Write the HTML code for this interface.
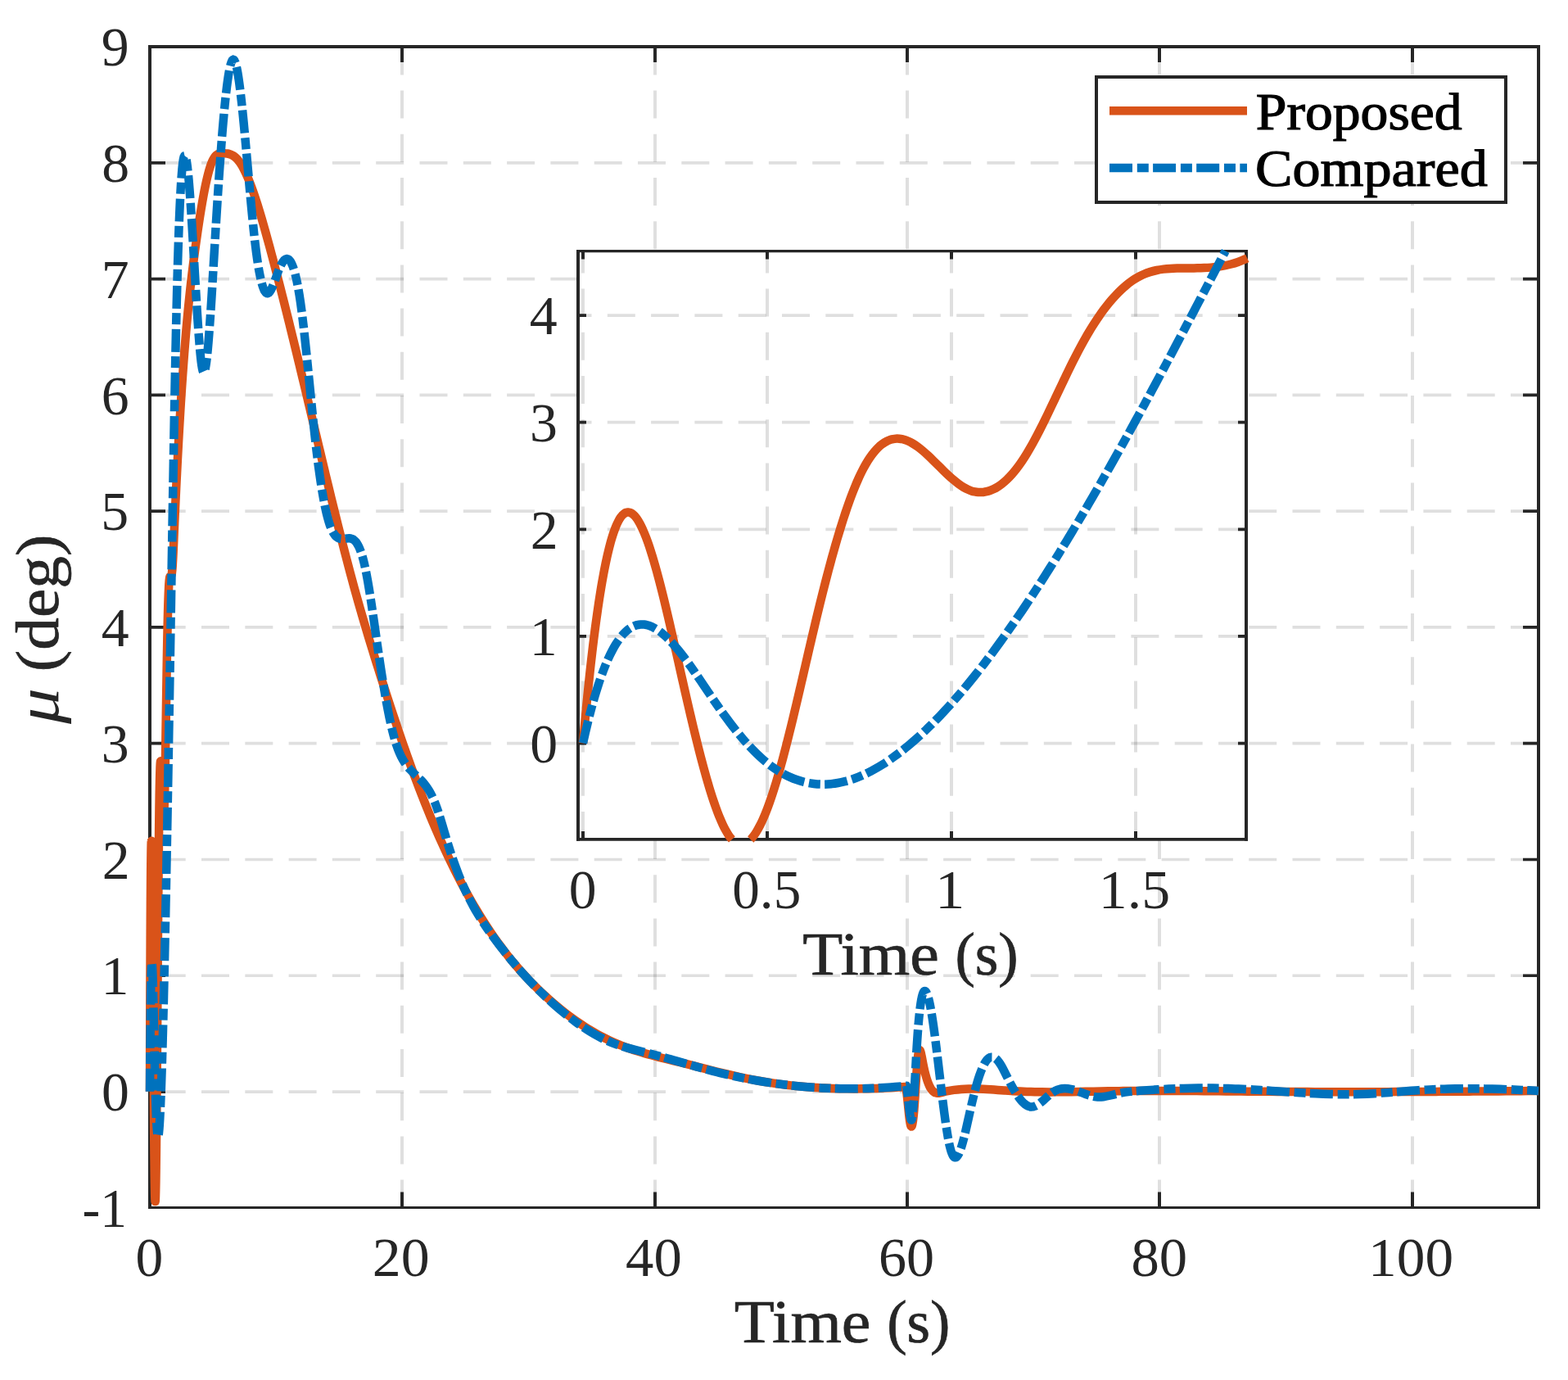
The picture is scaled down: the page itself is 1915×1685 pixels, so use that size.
<!DOCTYPE html>
<html lang="en"><head><meta charset="utf-8"><title>Bank angle response</title>
<style>html,body{margin:0;padding:0;background:#fff;overflow:hidden;}svg{display:block;}text{font-family:"Liberation Serif", serif;fill:#262626;}</style></head><body>
<svg width="1915" height="1685" viewBox="0 0 1915 1685">
<rect x="0" y="0" width="1915" height="1685" fill="#ffffff"/>
<g id="main-axes">
<g stroke="#262626" stroke-opacity="0.15" fill="none">
<path d="M491 1474.6 V56.9 M800 1474.6 V56.9 M1108 1474.6 V56.9 M1416 1474.6 V56.9 M1725 1474.6 V56.9" stroke-width="4" stroke-dasharray="34 19.2"/>
<path d="M1879 1333.03 H183 M1879 1191.26 H183 M1879 1049.49 H183 M1879 907.72 H183 M1879 765.95 H183 M1879 624.18 H183 M1879 482.41 H183 M1879 340.64 H183 M1879 198.87 H183" stroke-width="3.7" stroke-dasharray="34 19.3"/>
</g>
<g stroke="#262626" fill="none">
<path d="M491 1474.6 v-19 M491 56.9 v19 M800 1474.6 v-19 M800 56.9 v19 M1108 1474.6 v-19 M1108 56.9 v19 M1416 1474.6 v-19 M1416 56.9 v19 M1725 1474.6 v-19 M1725 56.9 v19" stroke-width="4"/>
<path d="M183 1333.03 h19 M1879 1333.03 h-19 M183 1191.26 h19 M1879 1191.26 h-19 M183 1049.49 h19 M1879 1049.49 h-19 M183 907.72 h19 M1879 907.72 h-19 M183 765.95 h19 M1879 765.95 h-19 M183 624.18 h19 M1879 624.18 h-19 M183 482.41 h19 M1879 482.41 h-19 M183 340.64 h19 M1879 340.64 h-19 M183 198.87 h19 M1879 198.87 h-19" stroke-width="3.7"/>
<path d="M183 55 V1476 M1879 55 V1476" stroke-width="4"/>
<path d="M181 57 H1881" stroke-width="4"/>
<path d="M181 1474.5 H1881" stroke-width="3"/>
</g>
</g>
<g id="main-ticklabels">
<text x="165.57" y="1558" font-size="67.8" textLength="33.76" lengthAdjust="spacingAndGlyphs">0</text>
<text x="454.83" y="1558" font-size="67.8" textLength="69.89" lengthAdjust="spacingAndGlyphs">20</text>
<text x="764.12" y="1558" font-size="67.8" textLength="68.75" lengthAdjust="spacingAndGlyphs">40</text>
<text x="1072.9" y="1558" font-size="67.8" textLength="68.15" lengthAdjust="spacingAndGlyphs">60</text>
<text x="1381.43" y="1558" font-size="67.8" textLength="68.65" lengthAdjust="spacingAndGlyphs">80</text>
<text x="1671.14" y="1558" font-size="67.8" textLength="103.96" lengthAdjust="spacingAndGlyphs">100</text>
<text x="123.9" y="1356.23" font-size="67.8" textLength="33.9" lengthAdjust="spacingAndGlyphs">0</text>
<text x="123.47" y="1214.46" font-size="67.8" textLength="33.9" lengthAdjust="spacingAndGlyphs">1</text>
<text x="124.82" y="1072.69" font-size="67.8" textLength="33.9" lengthAdjust="spacingAndGlyphs">2</text>
<text x="123.65" y="930.92" font-size="67.8" textLength="33.9" lengthAdjust="spacingAndGlyphs">3</text>
<text x="123.73" y="789.15" font-size="67.8" textLength="33.9" lengthAdjust="spacingAndGlyphs">4</text>
<text x="123.31" y="647.38" font-size="67.8" textLength="33.9" lengthAdjust="spacingAndGlyphs">5</text>
<text x="123.83" y="505.61" font-size="67.8" textLength="33.9" lengthAdjust="spacingAndGlyphs">6</text>
<text x="123.83" y="363.84" font-size="67.8" textLength="33.9" lengthAdjust="spacingAndGlyphs">7</text>
<text x="124.15" y="222.07" font-size="67.8" textLength="33.9" lengthAdjust="spacingAndGlyphs">8</text>
<text x="123.85" y="80.3" font-size="67.8" textLength="33.9" lengthAdjust="spacingAndGlyphs">9</text>
<text x="100.55" y="1498" font-size="67.8" textLength="54.51" lengthAdjust="spacingAndGlyphs">-1</text>
</g>
<text id="main-xlabel" stroke="#262626" stroke-width="0.7"><tspan x="896.89" y="1638.7" font-size="74" textLength="166.64" lengthAdjust="spacingAndGlyphs">Time</tspan> <tspan x="1083.19" y="1638.7" font-size="74" textLength="77.24" lengthAdjust="spacingAndGlyphs">(s)</tspan></text>
<text id="main-ylabel" stroke="#262626" stroke-width="0.7" transform="translate(71 884) rotate(-90)"><tspan x="0" y="0" font-size="74" font-style="italic" textLength="43.79" lengthAdjust="spacingAndGlyphs" stroke="none">μ</tspan> <tspan x="63.82" y="0" font-size="74" textLength="167.64" lengthAdjust="spacingAndGlyphs">(deg)</tspan></text>
<g id="main-curves" fill="none" stroke-width="10.5" stroke-linejoin="round">
<path id="proposed" stroke="#D95319" d="M183.00 1332.85 C183.01 1328.26 183.03 1323.72 183.04 1319.24 C183.05 1314.77 183.06 1310.35 183.08 1305.99 C183.09 1301.64 183.10 1297.34 183.12 1293.10 C183.13 1288.86 183.14 1284.67 183.15 1280.55 C183.17 1276.43 183.18 1272.36 183.19 1268.35 C183.21 1264.34 183.22 1260.39 183.23 1256.50 C183.24 1252.60 183.26 1248.77 183.27 1244.99 C183.28 1241.21 183.29 1237.48 183.31 1233.81 C183.32 1230.14 183.33 1226.53 183.35 1222.97 C183.36 1219.42 183.37 1215.91 183.38 1212.47 C183.40 1209.02 183.41 1205.62 183.42 1202.29 C183.44 1198.95 183.45 1195.66 183.46 1192.43 C183.47 1189.20 183.49 1186.02 183.50 1182.90 C183.51 1179.78 183.53 1176.71 183.54 1173.69 C183.55 1170.67 183.56 1167.70 183.58 1164.79 C183.59 1161.88 183.60 1159.01 183.62 1156.20 C183.63 1153.39 183.64 1150.63 183.65 1147.93 C183.67 1145.22 183.68 1142.56 183.69 1139.96 C183.71 1137.35 183.72 1134.79 183.73 1132.29 C183.74 1129.78 183.76 1127.33 183.77 1124.92 C183.78 1122.51 183.80 1120.16 183.81 1117.85 C183.82 1115.54 183.83 1113.28 183.85 1111.07 C183.86 1108.86 183.87 1106.69 183.88 1104.58 C183.90 1102.46 183.91 1100.39 183.92 1098.37 C183.94 1096.35 183.95 1094.38 183.96 1092.45 C183.97 1090.53 183.99 1088.65 184.00 1086.81 C184.01 1084.98 184.03 1083.19 184.04 1081.45 C184.05 1079.71 184.06 1078.01 184.08 1076.36 C184.09 1074.71 184.10 1073.10 184.12 1071.54 C184.14 1068.41 184.17 1065.47 184.19 1062.69 C184.22 1059.92 184.24 1057.32 184.27 1054.89 C184.30 1052.46 184.32 1050.20 184.35 1048.11 C184.38 1044.97 184.42 1042.19 184.46 1039.78 C184.51 1036.56 184.56 1033.98 184.62 1031.99 C184.68 1029.51 184.74 1027.96 184.81 1027.27 C184.82 1027.14 184.83 1027.03 184.85 1026.96 C184.86 1026.89 184.87 1026.86 184.88 1026.85 C184.90 1026.85 184.91 1026.88 184.92 1026.95 C184.94 1027.01 184.95 1027.10 184.96 1027.23 C185.06 1028.25 185.17 1031.32 185.27 1036.12 C185.32 1038.52 185.37 1041.36 185.42 1044.59 C185.46 1047.02 185.50 1049.66 185.54 1052.52 C185.56 1054.42 185.59 1056.41 185.62 1058.49 C185.64 1060.57 185.67 1062.74 185.69 1064.99 C185.72 1067.24 185.74 1069.57 185.77 1071.98 C185.80 1074.39 185.82 1076.88 185.85 1079.44 C185.87 1082.00 185.90 1084.63 185.92 1087.33 C185.95 1090.03 185.97 1092.79 186.00 1095.62 C186.03 1098.45 186.05 1101.34 186.08 1104.29 C186.09 1105.77 186.10 1107.26 186.12 1108.76 C186.13 1110.26 186.14 1111.78 186.15 1113.31 C186.17 1114.84 186.18 1116.38 186.19 1117.94 C186.21 1119.49 186.22 1121.06 186.23 1122.64 C186.24 1124.22 186.26 1125.81 186.27 1127.42 C186.28 1129.02 186.30 1130.63 186.31 1132.26 C186.32 1133.89 186.33 1135.52 186.35 1137.17 C186.36 1138.81 186.37 1140.47 186.39 1142.13 C186.40 1143.80 186.41 1145.47 186.42 1147.16 C186.44 1148.84 186.45 1150.53 186.46 1152.24 C186.47 1153.94 186.49 1155.64 186.50 1157.36 C186.51 1159.08 186.53 1160.80 186.54 1162.53 C186.55 1164.26 186.56 1166.00 186.58 1167.75 C186.59 1169.49 186.60 1171.24 186.62 1173.00 C186.63 1174.75 186.64 1176.52 186.65 1178.28 C186.67 1180.05 186.68 1181.82 186.69 1183.60 C186.71 1185.38 186.72 1187.16 186.73 1188.94 C186.74 1190.73 186.76 1192.52 186.77 1194.31 C186.78 1196.10 186.80 1197.90 186.81 1199.70 C186.82 1201.49 186.83 1203.29 186.85 1205.10 C186.86 1206.90 186.87 1208.70 186.89 1210.51 C186.90 1212.32 186.91 1214.12 186.92 1215.93 C186.94 1217.74 186.95 1219.55 186.96 1221.36 C186.98 1223.17 186.99 1224.98 187.00 1226.79 C187.01 1228.60 187.03 1230.40 187.04 1232.21 C187.05 1234.02 187.06 1235.83 187.08 1237.63 C187.09 1239.44 187.10 1241.24 187.12 1243.04 C187.13 1244.85 187.14 1246.65 187.15 1248.45 C187.17 1250.25 187.18 1252.04 187.19 1253.84 C187.21 1255.63 187.22 1257.42 187.23 1259.21 C187.24 1261.00 187.26 1262.79 187.27 1264.57 C187.28 1266.36 187.30 1268.14 187.31 1269.91 C187.32 1271.69 187.33 1273.46 187.35 1275.23 C187.36 1277.00 187.37 1278.76 187.39 1280.53 C187.40 1282.29 187.41 1284.04 187.42 1285.79 C187.44 1287.55 187.45 1289.29 187.46 1291.03 C187.48 1292.78 187.49 1294.51 187.50 1296.24 C187.51 1297.97 187.53 1299.70 187.54 1301.42 C187.55 1303.14 187.56 1304.85 187.58 1306.56 C187.59 1308.27 187.60 1309.97 187.62 1311.66 C187.63 1313.35 187.64 1315.04 187.65 1316.72 C187.67 1318.40 187.68 1320.08 187.69 1321.74 C187.71 1323.41 187.72 1325.07 187.73 1326.72 C187.74 1328.37 187.76 1330.01 187.77 1331.64 C187.78 1333.28 187.80 1334.90 187.81 1336.52 C187.82 1338.14 187.83 1339.74 187.85 1341.34 C187.86 1342.94 187.87 1344.53 187.89 1346.11 C187.90 1347.69 187.91 1349.27 187.92 1350.83 C187.94 1352.39 187.95 1353.94 187.96 1355.48 C187.98 1357.02 187.99 1358.55 188.00 1360.07 C188.03 1363.12 188.05 1366.11 188.08 1369.07 C188.10 1372.02 188.13 1374.93 188.15 1377.78 C188.18 1380.64 188.21 1383.45 188.23 1386.21 C188.26 1388.97 188.28 1391.67 188.31 1394.32 C188.33 1396.97 188.36 1399.57 188.39 1402.10 C188.41 1404.64 188.44 1407.12 188.46 1409.54 C188.49 1411.95 188.51 1414.31 188.54 1416.60 C188.57 1418.89 188.59 1421.12 188.62 1423.28 C188.64 1425.44 188.67 1427.53 188.69 1429.55 C188.73 1432.58 188.77 1435.45 188.81 1438.15 C188.85 1440.86 188.89 1443.39 188.92 1445.74 C188.98 1448.88 189.03 1451.69 189.08 1454.16 C189.15 1457.86 189.23 1460.77 189.31 1462.86 C189.39 1464.95 189.46 1466.22 189.54 1466.73 C189.55 1466.81 189.57 1466.88 189.58 1466.92 C189.59 1466.96 189.60 1466.98 189.62 1466.98 C189.63 1466.98 189.64 1466.96 189.65 1466.91 C189.67 1466.87 189.68 1466.81 189.69 1466.72 C189.80 1466.04 189.90 1464.04 190.00 1460.78 C190.07 1458.75 190.13 1456.23 190.19 1453.25 C190.24 1450.87 190.30 1448.18 190.35 1445.21 C190.39 1442.98 190.42 1440.60 190.46 1438.05 C190.50 1435.50 190.54 1432.80 190.58 1429.95 C190.60 1428.05 190.63 1426.07 190.66 1424.04 C190.68 1422.00 190.71 1419.90 190.73 1417.73 C190.76 1415.56 190.78 1413.33 190.81 1411.03 C190.83 1408.74 190.86 1406.38 190.89 1403.96 C190.91 1401.54 190.94 1399.05 190.96 1396.52 C190.99 1393.98 191.01 1391.38 191.04 1388.73 C191.07 1386.08 191.09 1383.38 191.12 1380.63 C191.14 1377.88 191.17 1375.07 191.19 1372.22 C191.22 1369.37 191.24 1366.48 191.27 1363.54 C191.30 1360.60 191.32 1357.61 191.35 1354.59 C191.36 1353.08 191.37 1351.55 191.39 1350.02 C191.40 1348.49 191.41 1346.95 191.42 1345.40 C191.44 1343.85 191.45 1342.29 191.46 1340.72 C191.48 1339.15 191.49 1337.57 191.50 1335.99 C191.51 1334.40 191.53 1332.81 191.54 1331.21 C191.55 1329.61 191.57 1328.00 191.58 1326.38 C191.59 1324.76 191.60 1323.14 191.62 1321.50 C191.63 1319.87 191.64 1318.23 191.66 1316.59 C191.67 1314.94 191.68 1313.29 191.69 1311.63 C191.71 1309.97 191.72 1308.31 191.73 1306.64 C191.75 1304.97 191.76 1303.29 191.77 1301.61 C191.78 1299.93 191.80 1298.24 191.81 1296.55 C191.82 1294.86 191.83 1293.16 191.85 1291.46 C191.86 1289.76 191.87 1288.05 191.89 1286.34 C191.90 1284.63 191.91 1282.92 191.92 1281.20 C191.94 1279.48 191.95 1277.76 191.96 1276.04 C191.98 1274.31 191.99 1272.58 192.00 1270.85 C192.01 1269.12 192.03 1267.38 192.04 1265.65 C192.05 1263.91 192.07 1262.17 192.08 1260.43 C192.09 1258.69 192.10 1256.94 192.12 1255.20 C192.13 1253.45 192.14 1251.70 192.16 1249.95 C192.17 1248.20 192.18 1246.45 192.19 1244.70 C192.21 1242.95 192.22 1241.20 192.23 1239.45 C192.25 1237.69 192.26 1235.94 192.27 1234.19 C192.28 1232.43 192.30 1230.68 192.31 1228.92 C192.32 1227.17 192.33 1225.42 192.35 1223.66 C192.36 1221.91 192.37 1220.16 192.39 1218.40 C192.40 1216.65 192.41 1214.90 192.42 1213.15 C192.44 1211.40 192.45 1209.66 192.46 1207.91 C192.48 1206.16 192.49 1204.42 192.50 1202.68 C192.51 1200.93 192.53 1199.19 192.54 1197.46 C192.55 1195.72 192.57 1193.98 192.58 1192.25 C192.59 1190.52 192.60 1188.79 192.62 1187.06 C192.63 1185.34 192.64 1183.62 192.66 1181.90 C192.67 1180.18 192.68 1178.46 192.69 1176.75 C192.71 1175.04 192.72 1173.33 192.73 1171.63 C192.75 1169.93 192.76 1168.23 192.77 1166.54 C192.78 1164.85 192.80 1163.16 192.81 1161.48 C192.82 1159.79 192.83 1158.12 192.85 1156.44 C192.86 1154.77 192.87 1153.11 192.89 1151.45 C192.90 1149.79 192.91 1148.13 192.92 1146.48 C192.94 1144.83 192.95 1143.19 192.96 1141.56 C192.98 1139.92 192.99 1138.29 193.00 1136.66 C193.01 1135.04 193.03 1133.42 193.04 1131.81 C193.05 1130.20 193.07 1128.59 193.08 1126.99 C193.09 1125.39 193.10 1123.80 193.12 1122.21 C193.13 1120.63 193.14 1119.05 193.16 1117.48 C193.17 1115.90 193.18 1114.34 193.19 1112.78 C193.21 1111.22 193.22 1109.67 193.23 1108.12 C193.25 1106.58 193.26 1105.04 193.27 1103.51 C193.28 1101.98 193.30 1100.46 193.31 1098.94 C193.32 1097.42 193.34 1095.92 193.35 1094.42 C193.37 1091.41 193.40 1088.44 193.42 1085.50 C193.45 1082.56 193.48 1079.65 193.50 1076.78 C193.53 1073.90 193.55 1071.06 193.58 1068.25 C193.60 1065.44 193.63 1062.66 193.66 1059.92 C193.68 1057.18 193.71 1054.47 193.73 1051.80 C193.76 1049.13 193.78 1046.50 193.81 1043.90 C193.84 1041.30 193.86 1038.75 193.89 1036.22 C193.91 1033.70 193.94 1031.22 193.96 1028.78 C193.99 1026.34 194.01 1023.94 194.04 1021.57 C194.07 1019.21 194.09 1016.89 194.12 1014.61 C194.14 1012.34 194.17 1010.10 194.19 1007.91 C194.22 1005.72 194.25 1003.57 194.27 1001.46 C194.30 999.36 194.32 997.30 194.35 995.28 C194.39 992.26 194.42 989.34 194.46 986.53 C194.50 983.72 194.54 981.02 194.58 978.43 C194.62 975.83 194.66 973.35 194.69 970.98 C194.75 967.83 194.80 964.88 194.85 962.12 C194.90 959.36 194.95 956.79 195.00 954.42 C195.07 951.44 195.13 948.76 195.19 946.36 C195.28 943.00 195.37 940.18 195.46 937.87 C195.63 933.57 195.80 931.02 195.96 929.95 C195.99 929.79 196.01 929.66 196.04 929.56 C196.05 929.52 196.07 929.48 196.08 929.45 C196.09 929.42 196.10 929.39 196.12 929.38 C196.13 929.37 196.14 929.36 196.16 929.36 C196.17 929.37 196.18 929.38 196.19 929.40 C196.21 929.42 196.22 929.44 196.23 929.48 C196.25 929.52 196.26 929.56 196.27 929.61 C196.31 929.76 196.35 929.99 196.39 930.28 C196.57 931.64 196.75 934.51 196.93 938.43 C197.04 940.94 197.16 943.88 197.27 947.07 C197.36 949.56 197.45 952.20 197.54 954.94 C197.63 957.67 197.72 960.48 197.81 963.31 C197.90 966.14 197.99 968.98 198.08 971.77 C198.17 974.55 198.26 977.27 198.35 979.85 C198.45 982.81 198.55 985.59 198.66 988.09 C198.81 991.83 198.96 994.94 199.12 997.04 C199.22 998.44 199.32 999.40 199.43 999.94 C199.44 1000.01 199.45 1000.07 199.46 1000.12 C199.48 1000.18 199.49 1000.22 199.50 1000.26 C199.52 1000.30 199.53 1000.34 199.54 1000.36 C199.55 1000.39 199.57 1000.41 199.58 1000.42 C199.59 1000.43 199.61 1000.44 199.62 1000.44 C199.63 1000.44 199.64 1000.43 199.66 1000.42 C199.67 1000.41 199.68 1000.39 199.70 1000.36 C199.71 1000.33 199.72 1000.30 199.73 1000.26 C199.76 1000.18 199.78 1000.07 199.81 999.93 C199.93 999.32 200.04 998.17 200.16 996.48 C200.30 994.41 200.44 991.53 200.58 987.85 C200.67 985.50 200.76 982.83 200.85 979.83 C200.93 977.26 201.00 974.46 201.08 971.41 C201.14 968.87 201.21 966.17 201.27 963.30 C201.32 961.01 201.37 958.60 201.43 956.10 C201.48 953.60 201.53 950.99 201.58 948.30 C201.63 945.60 201.68 942.82 201.73 939.96 C201.79 937.10 201.84 934.16 201.89 931.15 C201.93 928.89 201.96 926.60 202.00 924.27 C202.04 921.94 202.08 919.58 202.12 917.19 C202.16 914.80 202.20 912.38 202.23 909.94 C202.27 907.49 202.31 905.02 202.35 902.53 C202.39 900.05 202.43 897.54 202.46 895.01 C202.50 892.49 202.54 889.95 202.58 887.40 C202.62 884.85 202.66 882.29 202.70 879.72 C202.73 877.16 202.77 874.58 202.81 872.01 C202.85 869.43 202.89 866.86 202.93 864.28 C202.96 861.71 203.00 859.14 203.04 856.57 C203.08 854.01 203.12 851.45 203.16 848.91 C203.20 846.36 203.23 843.83 203.27 841.32 C203.31 838.80 203.35 836.30 203.39 833.82 C203.43 831.35 203.46 828.89 203.50 826.46 C203.54 824.03 203.58 821.62 203.62 819.25 C203.66 816.87 203.70 814.52 203.73 812.21 C203.77 809.90 203.81 807.63 203.85 805.39 C203.90 802.41 203.95 799.49 204.00 796.64 C204.05 793.79 204.11 791.00 204.16 788.28 C204.21 785.56 204.26 782.91 204.31 780.32 C204.36 777.74 204.41 775.22 204.47 772.76 C204.53 769.70 204.59 766.73 204.66 763.88 C204.72 761.02 204.79 758.26 204.85 755.62 C204.91 752.97 204.98 750.43 205.04 747.99 C205.12 745.06 205.20 742.29 205.27 739.67 C205.36 736.62 205.45 733.77 205.54 731.13 C205.64 728.12 205.75 725.38 205.85 722.91 C205.99 719.52 206.13 716.66 206.27 714.31 C206.54 709.84 206.81 707.24 207.08 705.72 C207.17 705.21 207.26 704.82 207.35 704.53 C207.39 704.40 207.43 704.29 207.47 704.19 C207.49 704.13 207.52 704.07 207.54 704.02 C207.57 703.97 207.59 703.92 207.62 703.88 C207.65 703.84 207.67 703.80 207.70 703.77 C207.71 703.75 207.72 703.74 207.73 703.73 C207.75 703.71 207.76 703.70 207.77 703.69 C207.79 703.67 207.80 703.66 207.81 703.65 C207.82 703.64 207.84 703.63 207.85 703.62 C207.86 703.62 207.88 703.61 207.89 703.60 C207.90 703.59 207.91 703.59 207.93 703.58 C207.94 703.57 207.95 703.57 207.97 703.56 C207.99 703.55 208.02 703.54 208.04 703.54 C208.09 703.52 208.15 703.51 208.20 703.50 C208.30 703.49 208.40 703.48 208.50 703.45 C208.53 703.44 208.56 703.44 208.58 703.43 C208.61 703.42 208.63 703.41 208.66 703.39 C208.67 703.39 208.68 703.38 208.70 703.37 C208.71 703.37 208.72 703.36 208.74 703.35 C208.75 703.34 208.76 703.33 208.77 703.32 C208.80 703.30 208.82 703.28 208.85 703.26 C208.88 703.23 208.90 703.21 208.93 703.18 C208.95 703.15 208.98 703.11 209.00 703.08 C209.04 703.02 209.08 702.96 209.12 702.88 C209.17 702.79 209.22 702.67 209.27 702.54 C209.35 702.34 209.43 702.09 209.50 701.80 C209.66 701.20 209.81 700.38 209.97 699.27 C210.22 697.41 210.48 694.67 210.74 690.85 C210.90 688.37 211.07 685.48 211.24 682.31 C211.38 679.62 211.52 676.73 211.66 673.71 C211.79 670.96 211.92 668.10 212.04 665.19 C212.17 662.27 212.30 659.30 212.43 656.33 C212.56 653.36 212.68 650.39 212.81 647.45 C212.94 644.51 213.07 641.59 213.20 638.69 C213.33 635.79 213.45 632.92 213.58 630.06 C213.71 627.21 213.84 624.38 213.97 621.57 C214.09 618.76 214.22 615.97 214.35 613.20 C214.48 610.44 214.61 607.69 214.74 604.97 C214.88 601.98 215.02 599.01 215.16 596.07 C215.30 593.13 215.44 590.21 215.58 587.33 C215.72 584.44 215.86 581.58 216.01 578.75 C216.15 575.92 216.29 573.11 216.43 570.33 C216.57 567.55 216.71 564.80 216.85 562.08 C217.01 559.11 217.16 556.17 217.31 553.27 C217.47 550.36 217.62 547.49 217.78 544.65 C217.93 541.81 218.08 539.00 218.24 536.22 C218.40 533.21 218.57 530.24 218.74 527.30 C218.90 524.36 219.07 521.46 219.24 518.60 C219.40 515.73 219.57 512.90 219.74 510.10 C219.92 507.09 220.10 504.12 220.28 501.19 C220.45 498.26 220.63 495.37 220.81 492.51 C220.99 489.66 221.17 486.85 221.35 484.07 C221.54 481.09 221.74 478.16 221.93 475.26 C222.12 472.37 222.31 469.52 222.51 466.71 C222.71 463.72 222.92 460.76 223.12 457.86 C223.33 454.95 223.53 452.09 223.74 449.28 C223.96 446.28 224.17 443.34 224.39 440.44 C224.61 437.55 224.83 434.70 225.05 431.89 C225.28 428.93 225.51 426.01 225.74 423.14 C225.98 420.12 226.23 417.15 226.47 414.23 C226.71 411.31 226.96 408.45 227.20 405.63 C227.46 402.67 227.71 399.77 227.97 396.91 C228.24 393.92 228.51 390.98 228.78 388.10 C229.06 385.09 229.34 382.13 229.62 379.24 C229.92 376.21 230.21 373.24 230.51 370.34 C230.82 367.30 231.12 364.34 231.43 361.43 C231.75 358.40 232.07 355.44 232.39 352.53 C232.73 349.51 233.06 346.56 233.39 343.66 C233.74 340.65 234.09 337.71 234.43 334.83 C234.79 331.83 235.15 328.90 235.51 326.02 C235.88 323.05 236.25 320.12 236.62 317.25 C237.01 314.28 237.39 311.37 237.78 308.50 C238.18 305.53 238.57 302.61 238.97 299.73 C239.38 296.76 239.79 293.82 240.20 290.93 C240.62 287.94 241.05 285.00 241.47 282.10 C241.91 279.11 242.34 276.18 242.78 273.29 C243.23 270.33 243.68 267.41 244.13 264.56 C244.60 261.55 245.07 258.60 245.55 255.72 C246.05 252.69 246.55 249.74 247.05 246.87 C247.57 243.86 248.10 240.94 248.63 238.12 C249.19 235.09 249.75 232.19 250.32 229.40 C250.93 226.37 251.55 223.48 252.17 220.75 C252.87 217.62 253.58 214.70 254.28 212.01 C255.11 208.83 255.95 205.96 256.78 203.43 C257.67 200.74 258.55 198.45 259.44 196.55 C260.03 195.29 260.62 194.19 261.21 193.25 C261.65 192.52 262.10 191.89 262.55 191.32 C262.92 190.86 263.30 190.44 263.67 190.08 C264.00 189.75 264.33 189.45 264.67 189.19 C264.99 188.94 265.31 188.72 265.63 188.53 C265.94 188.34 266.24 188.18 266.55 188.04 C266.89 187.89 267.22 187.76 267.55 187.65 C267.92 187.54 268.30 187.44 268.67 187.37 C269.18 187.27 269.69 187.21 270.21 187.18 C271.57 187.08 272.93 187.11 274.28 187.17 C275.40 187.23 276.52 187.33 277.63 187.52 C278.45 187.66 279.27 187.85 280.09 188.09 C280.81 188.30 281.53 188.56 282.25 188.86 C282.93 189.16 283.61 189.49 284.29 189.89 C284.98 190.29 285.67 190.74 286.36 191.26 C287.09 191.81 287.83 192.43 288.56 193.12 C289.38 193.91 290.20 194.79 291.02 195.78 C292.08 197.08 293.15 198.56 294.21 200.22 C295.67 202.50 297.13 205.12 298.60 208.04 C299.84 210.53 301.08 213.23 302.33 216.13 C303.44 218.73 304.56 221.49 305.67 224.39 C306.70 227.06 307.73 229.85 308.75 232.74 C309.71 235.46 310.68 238.26 311.64 241.16 C312.56 243.94 313.48 246.79 314.41 249.72 C315.29 252.52 316.18 255.39 317.06 258.31 C317.91 261.10 318.75 263.95 319.60 266.84 C320.42 269.64 321.24 272.49 322.06 275.36 C322.87 278.20 323.68 281.06 324.49 283.96 C325.28 286.81 326.08 289.68 326.87 292.58 C327.65 295.43 328.43 298.30 329.22 301.19 C329.99 304.03 330.76 306.88 331.52 309.76 C332.29 312.63 333.06 315.52 333.83 318.42 C334.59 321.28 335.35 324.15 336.10 327.04 C336.86 329.92 337.62 332.82 338.37 335.73 C339.12 338.60 339.86 341.47 340.60 344.36 C341.35 347.25 342.09 350.16 342.83 353.07 C343.57 355.93 344.30 358.81 345.03 361.69 C345.76 364.58 346.49 367.47 347.22 370.38 C347.94 373.24 348.66 376.10 349.37 378.98 C350.09 381.85 350.81 384.74 351.53 387.63 C352.25 390.52 352.96 393.42 353.68 396.33 C354.39 399.19 355.09 402.05 355.80 404.93 C356.50 407.80 357.21 410.68 357.91 413.56 C358.62 416.45 359.32 419.34 360.03 422.24 C360.73 425.14 361.44 428.05 362.15 430.96 C362.85 433.87 363.56 436.78 364.26 439.70 C364.95 442.57 365.65 445.44 366.34 448.32 C367.03 451.20 367.72 454.08 368.42 456.96 C369.11 459.85 369.80 462.74 370.49 465.63 C371.19 468.52 371.88 471.42 372.57 474.31 C373.26 477.21 373.95 480.11 374.65 483.01 C375.34 485.92 376.03 488.82 376.72 491.73 C377.42 494.63 378.11 497.54 378.80 500.45 C379.49 503.36 380.19 506.27 380.88 509.18 C381.57 512.09 382.26 515.00 382.96 517.91 C383.65 520.83 384.34 523.74 385.03 526.65 C385.73 529.56 386.42 532.47 387.11 535.38 C387.80 538.29 388.50 541.20 389.19 544.10 C389.88 547.01 390.57 549.91 391.27 552.82 C391.96 555.72 392.65 558.62 393.34 561.52 C394.04 564.41 394.73 567.31 395.42 570.20 C396.11 573.09 396.80 575.97 397.50 578.86 C398.19 581.74 398.88 584.61 399.57 587.49 C400.27 590.36 400.96 593.22 401.65 596.08 C402.36 599.00 403.06 601.90 403.77 604.80 C404.47 607.70 405.18 610.60 405.88 613.48 C406.59 616.37 407.29 619.24 408.00 622.11 C408.72 625.03 409.44 627.94 410.15 630.85 C410.87 633.75 411.59 636.64 412.31 639.52 C413.03 642.40 413.74 645.27 414.46 648.13 C415.19 651.05 415.92 653.94 416.65 656.83 C417.39 659.72 418.12 662.59 418.85 665.45 C419.59 668.36 420.33 671.26 421.08 674.14 C421.82 677.02 422.57 679.89 423.31 682.74 C424.07 685.64 424.82 688.53 425.58 691.39 C426.35 694.31 427.12 697.21 427.89 700.09 C428.66 702.97 429.43 705.83 430.20 708.67 C430.98 711.55 431.76 714.42 432.54 717.27 C433.34 720.16 434.13 723.03 434.93 725.88 C435.73 728.77 436.54 731.64 437.35 734.50 C438.17 737.39 438.99 740.27 439.81 743.13 C440.65 746.03 441.48 748.91 442.31 751.77 C443.15 754.63 443.98 757.48 444.81 760.30 C445.66 763.17 446.51 766.02 447.35 768.85 C448.21 771.73 449.07 774.59 449.93 777.43 C450.80 780.32 451.67 783.18 452.54 786.04 C453.42 788.89 454.29 791.73 455.16 794.56 C456.05 797.43 456.93 800.28 457.82 803.13 C458.70 805.97 459.58 808.80 460.47 811.62 C461.37 814.48 462.26 817.33 463.16 820.18 C464.06 823.02 464.96 825.85 465.85 828.68 C466.77 831.54 467.68 834.40 468.59 837.24 C469.50 840.09 470.41 842.92 471.32 845.75 C472.24 848.61 473.16 851.46 474.09 854.30 C475.01 857.14 475.93 859.97 476.86 862.79 C477.79 865.65 478.73 868.49 479.66 871.32 C480.60 874.15 481.54 876.96 482.47 879.77 C483.42 882.61 484.37 885.43 485.32 888.24 C486.28 891.09 487.24 893.92 488.20 896.74 C489.17 899.56 490.13 902.36 491.09 905.14 C492.06 907.96 493.04 910.77 494.01 913.55 C495.00 916.37 495.99 919.17 496.98 921.96 C497.98 924.78 498.98 927.58 499.98 930.36 C500.99 933.17 502.00 935.96 503.01 938.73 C504.04 941.54 505.07 944.32 506.09 947.08 C507.14 949.91 508.20 952.72 509.25 955.50 C510.31 958.31 511.38 961.10 512.44 963.86 C513.52 966.66 514.59 969.43 515.67 972.18 C516.77 974.99 517.88 977.77 518.98 980.53 C520.09 983.32 521.21 986.08 522.33 988.82 C523.47 991.62 524.61 994.39 525.75 997.14 C526.90 999.91 528.06 1002.66 529.21 1005.38 C530.39 1008.16 531.57 1010.91 532.75 1013.63 C533.94 1016.38 535.14 1019.10 536.33 1021.80 C537.55 1024.55 538.76 1027.27 539.98 1029.95 C541.23 1032.70 542.47 1035.41 543.71 1038.10 C544.98 1040.84 546.25 1043.54 547.52 1046.22 C548.82 1048.94 550.11 1051.64 551.41 1054.30 C552.73 1057.01 554.05 1059.69 555.37 1062.34 C556.72 1065.03 558.06 1067.70 559.41 1070.32 C560.78 1073.00 562.15 1075.64 563.52 1078.24 C564.94 1080.92 566.35 1083.56 567.76 1086.16 C569.19 1088.81 570.63 1091.42 572.06 1094.00 C573.54 1096.64 575.01 1099.24 576.49 1101.80 C578.00 1104.43 579.51 1107.02 581.03 1109.56 C582.58 1112.17 584.13 1114.74 585.68 1117.26 C587.27 1119.85 588.86 1122.39 590.45 1124.89 C592.08 1127.45 593.71 1129.96 595.34 1132.43 C597.00 1134.96 598.67 1137.44 600.34 1139.87 C602.04 1142.36 603.75 1144.81 605.46 1147.21 C607.21 1149.68 608.97 1152.10 610.73 1154.48 C612.52 1156.91 614.32 1159.29 616.11 1161.62 C617.96 1164.02 619.80 1166.37 621.65 1168.68 C623.55 1171.05 625.45 1173.37 627.34 1175.64 C629.28 1177.96 631.22 1180.23 633.15 1182.45 C635.14 1184.73 637.13 1186.97 639.11 1189.15 C641.15 1191.40 643.19 1193.59 645.23 1195.74 C647.31 1197.93 649.39 1200.07 651.46 1202.17 C653.59 1204.32 655.72 1206.42 657.85 1208.48 C660.02 1210.58 662.18 1212.63 664.35 1214.64 C666.57 1216.70 668.79 1218.71 671.00 1220.68 C673.26 1222.69 675.52 1224.65 677.77 1226.57 C680.08 1228.53 682.39 1230.44 684.70 1232.31 C687.05 1234.20 689.39 1236.05 691.74 1237.86 C694.14 1239.70 696.53 1241.49 698.93 1243.23 C701.38 1245.01 703.83 1246.74 706.28 1248.42 C708.77 1250.12 711.25 1251.77 713.74 1253.37 C716.28 1255.00 718.82 1256.57 721.36 1258.09 C723.95 1259.64 726.54 1261.13 729.13 1262.57 C731.77 1264.04 734.41 1265.44 737.05 1266.79 C739.75 1268.16 742.44 1269.47 745.13 1270.73 C747.86 1272.00 750.59 1273.20 753.33 1274.35 C756.11 1275.52 758.89 1276.63 761.67 1277.68 C764.49 1278.75 767.32 1279.77 770.14 1280.74 C772.98 1281.72 775.83 1282.65 778.68 1283.54 C781.55 1284.44 784.42 1285.30 787.29 1286.13 C790.18 1286.96 793.06 1287.76 795.95 1288.53 C798.85 1289.31 801.74 1290.06 804.64 1290.80 C807.55 1291.54 810.46 1292.26 813.37 1292.97 C816.29 1293.69 819.20 1294.40 822.11 1295.10 C825.02 1295.81 827.93 1296.52 830.84 1297.23 C833.75 1297.95 836.66 1298.67 839.57 1299.41 C842.47 1300.13 845.37 1300.87 848.26 1301.61 C851.16 1302.34 854.06 1303.08 856.96 1303.82 C859.86 1304.56 862.75 1305.30 865.65 1306.03 C868.55 1306.77 871.45 1307.50 874.35 1308.22 C877.26 1308.95 880.17 1309.67 883.08 1310.37 C885.99 1311.08 888.90 1311.78 891.81 1312.46 C894.73 1313.14 897.66 1313.81 900.58 1314.46 C903.50 1315.12 906.43 1315.75 909.35 1316.36 C912.29 1316.98 915.22 1317.57 918.16 1318.14 C921.11 1318.71 924.06 1319.26 927.01 1319.78 C929.96 1320.30 932.91 1320.80 935.86 1321.28 C938.82 1321.76 941.78 1322.21 944.74 1322.64 C947.70 1323.08 950.67 1323.49 953.63 1323.88 C956.60 1324.26 959.58 1324.63 962.55 1324.98 C965.53 1325.32 968.50 1325.65 971.48 1325.95 C974.45 1326.25 977.43 1326.53 980.40 1326.79 C983.39 1327.05 986.38 1327.29 989.37 1327.51 C992.35 1327.73 995.34 1327.93 998.33 1328.11 C1001.32 1328.29 1004.30 1328.45 1007.29 1328.59 C1010.28 1328.74 1013.27 1328.86 1016.25 1328.96 C1019.24 1329.06 1022.23 1329.15 1025.22 1329.21 C1028.20 1329.28 1031.19 1329.33 1034.18 1329.36 C1037.17 1329.39 1040.16 1329.40 1043.14 1329.40 C1046.13 1329.40 1049.12 1329.37 1052.11 1329.34 C1055.09 1329.30 1058.08 1329.25 1061.07 1329.18 C1064.06 1329.11 1067.04 1329.02 1070.03 1328.92 C1073.02 1328.82 1076.01 1328.70 1079.00 1328.57 C1081.98 1328.44 1084.97 1328.30 1087.96 1328.14 C1090.95 1327.98 1093.93 1327.80 1096.92 1327.61 C1099.91 1327.42 1102.90 1327.22 1105.88 1327.01 C1105.92 1327.01 1105.96 1327.00 1106.00 1327.00 C1106.09 1327.23 1106.18 1327.51 1106.27 1327.85 C1106.56 1328.97 1106.86 1330.66 1107.15 1332.75 C1107.50 1335.20 1107.85 1338.20 1108.19 1341.45 C1108.49 1344.22 1108.78 1347.18 1109.08 1350.15 C1109.37 1353.12 1109.67 1356.09 1109.96 1358.90 C1110.31 1362.19 1110.65 1365.25 1111.00 1367.79 C1111.33 1370.23 1111.67 1372.15 1112.00 1373.43 C1112.11 1373.87 1112.23 1374.24 1112.34 1374.54 C1112.40 1374.67 1112.45 1374.78 1112.50 1374.89 C1112.54 1374.96 1112.58 1375.03 1112.61 1375.09 C1112.64 1375.13 1112.67 1375.17 1112.69 1375.20 C1112.70 1375.22 1112.72 1375.23 1112.73 1375.25 C1112.74 1375.26 1112.75 1375.28 1112.77 1375.29 C1112.78 1375.30 1112.79 1375.32 1112.81 1375.33 C1112.82 1375.34 1112.83 1375.35 1112.84 1375.36 C1112.86 1375.37 1112.87 1375.38 1112.88 1375.38 C1112.90 1375.39 1112.91 1375.40 1112.92 1375.40 C1112.93 1375.41 1112.95 1375.41 1112.96 1375.42 C1112.97 1375.42 1112.99 1375.43 1113.00 1375.43 C1113.01 1375.43 1113.02 1375.43 1113.04 1375.43 C1113.05 1375.43 1113.06 1375.43 1113.08 1375.43 C1113.09 1375.43 1113.10 1375.43 1113.11 1375.42 C1113.13 1375.42 1113.14 1375.41 1113.15 1375.41 C1113.16 1375.40 1113.18 1375.40 1113.19 1375.39 C1113.20 1375.38 1113.22 1375.38 1113.23 1375.37 C1113.24 1375.36 1113.25 1375.35 1113.27 1375.34 C1113.28 1375.33 1113.29 1375.32 1113.31 1375.31 C1113.32 1375.29 1113.33 1375.28 1113.34 1375.27 C1113.37 1375.24 1113.40 1375.21 1113.42 1375.17 C1113.45 1375.14 1113.47 1375.10 1113.50 1375.05 C1113.55 1374.97 1113.60 1374.87 1113.65 1374.76 C1113.73 1374.59 1113.81 1374.38 1113.88 1374.15 C1114.06 1373.60 1114.24 1372.87 1114.42 1371.97 C1114.83 1369.92 1115.24 1366.95 1115.65 1363.07 C1115.92 1360.52 1116.19 1357.58 1116.46 1354.26 C1116.68 1351.57 1116.89 1348.61 1117.11 1345.49 C1117.30 1342.73 1117.50 1339.85 1117.69 1336.89 C1117.87 1334.13 1118.05 1331.31 1118.23 1328.47 C1118.41 1325.64 1118.59 1322.80 1118.77 1320.00 C1118.96 1317.00 1119.15 1314.04 1119.34 1311.20 C1119.55 1308.16 1119.75 1305.25 1119.96 1302.53 C1120.20 1299.31 1120.45 1296.37 1120.69 1293.84 C1121.07 1289.84 1121.46 1286.97 1121.84 1285.11 C1121.98 1284.42 1122.12 1283.87 1122.27 1283.44 C1122.34 1283.21 1122.42 1283.01 1122.50 1282.84 C1122.53 1282.76 1122.57 1282.68 1122.61 1282.61 C1122.64 1282.57 1122.66 1282.53 1122.69 1282.49 C1122.71 1282.45 1122.74 1282.42 1122.77 1282.39 C1122.78 1282.37 1122.79 1282.36 1122.80 1282.35 C1122.82 1282.33 1122.83 1282.32 1122.84 1282.31 C1122.85 1282.30 1122.87 1282.29 1122.88 1282.28 C1122.89 1282.27 1122.91 1282.26 1122.92 1282.25 C1122.93 1282.24 1122.94 1282.23 1122.96 1282.23 C1122.97 1282.22 1122.98 1282.21 1123.00 1282.21 C1123.01 1282.20 1123.02 1282.20 1123.03 1282.20 C1123.05 1282.19 1123.06 1282.19 1123.07 1282.19 C1123.09 1282.19 1123.10 1282.19 1123.11 1282.19 C1123.12 1282.19 1123.14 1282.19 1123.15 1282.19 C1123.16 1282.19 1123.18 1282.19 1123.19 1282.19 C1123.20 1282.20 1123.21 1282.20 1123.23 1282.20 C1123.24 1282.21 1123.25 1282.21 1123.26 1282.22 C1123.28 1282.23 1123.29 1282.23 1123.30 1282.24 C1123.32 1282.25 1123.33 1282.26 1123.34 1282.26 C1123.35 1282.27 1123.37 1282.28 1123.38 1282.29 C1123.39 1282.30 1123.41 1282.31 1123.42 1282.33 C1123.44 1282.35 1123.47 1282.38 1123.50 1282.41 C1123.53 1282.45 1123.57 1282.50 1123.61 1282.56 C1123.66 1282.63 1123.71 1282.72 1123.76 1282.81 C1123.85 1282.98 1123.94 1283.18 1124.03 1283.41 C1124.24 1283.92 1124.44 1284.59 1124.65 1285.37 C1125.25 1287.64 1125.85 1290.87 1126.46 1294.12 C1127.02 1297.16 1127.58 1300.11 1128.15 1302.78 C1128.83 1306.00 1129.51 1308.90 1130.19 1311.53 C1131.03 1314.79 1131.88 1317.61 1132.72 1320.05 C1133.54 1322.42 1134.36 1324.42 1135.19 1326.11 C1135.76 1327.30 1136.34 1328.33 1136.92 1329.23 C1137.35 1329.91 1137.79 1330.51 1138.22 1331.04 C1138.58 1331.47 1138.94 1331.86 1139.30 1332.21 C1139.62 1332.52 1139.94 1332.79 1140.26 1333.04 C1140.56 1333.26 1140.85 1333.46 1141.15 1333.63 C1141.43 1333.79 1141.71 1333.94 1141.99 1334.06 C1142.27 1334.18 1142.56 1334.28 1142.84 1334.37 C1143.13 1334.46 1143.43 1334.52 1143.72 1334.57 C1144.04 1334.63 1144.36 1334.66 1144.68 1334.68 C1145.07 1334.70 1145.45 1334.70 1145.84 1334.67 C1146.39 1334.64 1146.94 1334.56 1147.49 1334.46 C1150.40 1333.92 1153.31 1333.00 1156.22 1332.39 C1159.17 1331.77 1162.11 1331.27 1165.06 1330.86 C1168.04 1330.45 1171.01 1330.14 1173.98 1329.91 C1176.97 1329.69 1179.96 1329.55 1182.94 1329.47 C1185.94 1329.40 1188.94 1329.40 1191.94 1329.45 C1194.93 1329.50 1197.91 1329.60 1200.90 1329.74 C1203.89 1329.88 1206.87 1330.06 1209.86 1330.25 C1212.85 1330.45 1215.83 1330.67 1218.82 1330.89 C1221.80 1331.11 1224.79 1331.34 1227.78 1331.55 C1230.76 1331.77 1233.75 1331.97 1236.74 1332.14 C1239.72 1332.32 1242.71 1332.48 1245.70 1332.61 C1248.68 1332.75 1251.67 1332.86 1254.66 1332.95 C1257.64 1333.05 1260.63 1333.13 1263.61 1333.19 C1266.61 1333.25 1269.61 1333.30 1272.61 1333.33 C1275.61 1333.36 1278.61 1333.38 1281.61 1333.38 C1284.61 1333.39 1287.61 1333.38 1290.61 1333.36 C1293.61 1333.35 1296.61 1333.32 1299.61 1333.29 C1302.60 1333.25 1305.60 1333.21 1308.60 1333.17 C1311.60 1333.12 1314.60 1333.07 1317.60 1333.01 C1320.60 1332.96 1323.60 1332.90 1326.60 1332.84 C1329.60 1332.78 1332.60 1332.72 1335.60 1332.66 C1338.60 1332.60 1341.60 1332.54 1344.59 1332.48 C1347.59 1332.43 1350.59 1332.38 1353.59 1332.33 C1356.59 1332.28 1359.59 1332.24 1362.59 1332.20 C1365.59 1332.16 1368.59 1332.13 1371.59 1332.09 C1374.59 1332.06 1377.59 1332.04 1380.59 1332.01 C1383.58 1331.99 1386.58 1331.97 1389.58 1331.95 C1392.58 1331.94 1395.58 1331.93 1398.58 1331.92 C1401.58 1331.91 1404.58 1331.90 1407.58 1331.90 C1410.58 1331.89 1413.58 1331.89 1416.58 1331.89 C1419.58 1331.89 1422.58 1331.90 1425.57 1331.91 C1428.57 1331.91 1431.57 1331.92 1434.57 1331.93 C1437.57 1331.94 1440.57 1331.96 1443.57 1331.97 C1446.57 1331.99 1449.57 1332.00 1452.57 1332.02 C1455.57 1332.04 1458.57 1332.06 1461.57 1332.08 C1464.56 1332.10 1467.56 1332.13 1470.56 1332.15 C1473.56 1332.17 1476.56 1332.20 1479.56 1332.22 C1482.56 1332.25 1485.56 1332.28 1488.56 1332.30 C1491.56 1332.33 1494.56 1332.36 1497.56 1332.39 C1500.56 1332.41 1503.55 1332.44 1506.55 1332.47 C1509.55 1332.50 1512.55 1332.53 1515.55 1332.55 C1518.55 1332.58 1521.55 1332.61 1524.55 1332.64 C1527.55 1332.67 1530.55 1332.69 1533.55 1332.72 C1536.55 1332.74 1539.55 1332.77 1542.55 1332.79 C1545.54 1332.82 1548.54 1332.84 1551.54 1332.86 C1554.54 1332.89 1557.54 1332.91 1560.54 1332.93 C1563.54 1332.95 1566.54 1332.97 1569.54 1332.98 C1572.54 1333.00 1575.54 1333.02 1578.54 1333.03 C1581.54 1333.05 1584.53 1333.06 1587.53 1333.08 C1590.53 1333.09 1593.53 1333.10 1596.53 1333.11 C1599.53 1333.12 1602.53 1333.13 1605.53 1333.14 C1608.53 1333.15 1611.53 1333.16 1614.53 1333.17 C1617.53 1333.17 1620.53 1333.18 1623.53 1333.18 C1626.52 1333.19 1629.52 1333.19 1632.52 1333.20 C1635.52 1333.20 1638.52 1333.20 1641.52 1333.20 C1644.52 1333.20 1647.52 1333.20 1650.52 1333.20 C1653.52 1333.20 1656.52 1333.20 1659.52 1333.20 C1662.52 1333.20 1665.51 1333.20 1668.51 1333.19 C1671.51 1333.19 1674.51 1333.18 1677.51 1333.18 C1680.51 1333.17 1683.51 1333.17 1686.51 1333.16 C1689.51 1333.15 1692.51 1333.15 1695.51 1333.14 C1698.51 1333.13 1701.51 1333.12 1704.50 1333.11 C1707.50 1333.10 1710.50 1333.09 1713.50 1333.08 C1716.50 1333.07 1719.50 1333.06 1722.50 1333.04 C1725.50 1333.03 1728.50 1333.02 1731.50 1333.01 C1734.50 1332.99 1737.50 1332.98 1740.50 1332.96 C1743.50 1332.95 1746.49 1332.93 1749.49 1332.92 C1752.49 1332.90 1755.49 1332.89 1758.49 1332.87 C1761.49 1332.85 1764.49 1332.83 1767.49 1332.82 C1770.49 1332.80 1773.49 1332.78 1776.49 1332.76 C1779.49 1332.74 1782.49 1332.72 1785.48 1332.71 C1788.48 1332.69 1791.48 1332.67 1794.48 1332.65 C1797.48 1332.63 1800.48 1332.60 1803.48 1332.58 C1806.48 1332.56 1809.48 1332.54 1812.48 1332.52 C1815.48 1332.50 1818.48 1332.48 1821.48 1332.45 C1824.48 1332.43 1827.47 1332.41 1830.47 1332.39 C1833.47 1332.36 1836.47 1332.34 1839.47 1332.32 C1842.47 1332.29 1845.47 1332.27 1848.47 1332.25 C1851.47 1332.22 1854.47 1332.20 1857.47 1332.18 C1860.47 1332.15 1863.47 1332.13 1866.46 1332.10 C1869.46 1332.08 1872.46 1332.05 1875.46 1332.03 C1876.64 1332.02 1877.82 1332.01 1879.00 1332.00"/>
<path id="compared" stroke="#0072BD" stroke-dasharray="28 5.8 14 5.3" d="M183.00 1332.83 C183.01 1330.97 183.03 1329.14 183.04 1327.32 C183.05 1325.50 183.06 1323.71 183.08 1321.93 C183.09 1320.15 183.10 1318.39 183.12 1316.65 C183.13 1314.91 183.14 1313.19 183.15 1311.49 C183.17 1309.79 183.18 1308.11 183.19 1306.44 C183.21 1304.78 183.22 1303.13 183.23 1301.51 C183.24 1299.88 183.26 1298.27 183.27 1296.68 C183.28 1295.10 183.29 1293.53 183.31 1291.97 C183.32 1290.42 183.33 1288.89 183.35 1287.37 C183.37 1284.34 183.40 1281.38 183.42 1278.49 C183.45 1275.61 183.47 1272.79 183.50 1270.05 C183.53 1267.30 183.55 1264.63 183.58 1262.02 C183.60 1259.41 183.63 1256.87 183.65 1254.40 C183.68 1251.93 183.71 1249.53 183.73 1247.20 C183.76 1244.86 183.78 1242.59 183.81 1240.38 C183.83 1238.18 183.86 1236.04 183.88 1233.96 C183.92 1230.85 183.96 1227.88 184.00 1225.05 C184.04 1222.21 184.08 1219.52 184.12 1216.96 C184.15 1214.41 184.19 1211.98 184.23 1209.69 C184.28 1206.63 184.33 1203.80 184.38 1201.20 C184.45 1197.94 184.51 1195.03 184.58 1192.45 C184.67 1188.83 184.76 1185.85 184.85 1183.46 C184.99 1179.69 185.13 1177.37 185.27 1176.27 C185.30 1176.07 185.32 1175.91 185.35 1175.79 C185.36 1175.73 185.37 1175.68 185.39 1175.64 C185.40 1175.60 185.41 1175.57 185.42 1175.55 C185.44 1175.53 185.45 1175.52 185.46 1175.52 C185.47 1175.52 185.49 1175.52 185.50 1175.54 C185.51 1175.56 185.53 1175.58 185.54 1175.62 C185.55 1175.65 185.56 1175.69 185.58 1175.75 C185.62 1175.90 185.65 1176.14 185.69 1176.45 C185.87 1177.91 186.05 1181.01 186.23 1185.32 C186.33 1187.78 186.44 1190.63 186.54 1193.80 C186.62 1196.17 186.69 1198.73 186.77 1201.44 C186.85 1204.15 186.92 1207.02 187.00 1210.01 C187.06 1212.51 187.13 1215.09 187.19 1217.75 C187.26 1220.41 187.32 1223.14 187.39 1225.93 C187.45 1228.72 187.51 1231.57 187.58 1234.46 C187.64 1237.35 187.71 1240.28 187.77 1243.24 C187.83 1246.20 187.90 1249.19 187.96 1252.19 C188.01 1254.60 188.06 1257.00 188.12 1259.41 C188.17 1261.82 188.22 1264.23 188.27 1266.64 C188.33 1269.64 188.40 1272.63 188.46 1275.59 C188.53 1278.55 188.59 1281.49 188.65 1284.38 C188.72 1287.28 188.78 1290.14 188.85 1292.95 C188.91 1295.77 188.98 1298.54 189.04 1301.27 C189.10 1304.00 189.17 1306.69 189.23 1309.32 C189.30 1311.95 189.36 1314.53 189.42 1317.06 C189.50 1320.09 189.58 1323.05 189.65 1325.92 C189.73 1328.79 189.81 1331.57 189.89 1334.26 C189.96 1336.95 190.04 1339.55 190.12 1342.05 C190.21 1344.96 190.30 1347.74 190.39 1350.36 C190.49 1353.37 190.59 1356.17 190.69 1358.78 C190.82 1362.05 190.95 1365.01 191.08 1367.68 C191.24 1371.16 191.41 1374.14 191.58 1376.65 C191.86 1380.91 192.14 1383.83 192.42 1385.53 C192.50 1385.99 192.58 1386.37 192.66 1386.65 C192.69 1386.80 192.73 1386.92 192.77 1387.02 C192.78 1387.05 192.80 1387.08 192.81 1387.11 C192.82 1387.14 192.83 1387.16 192.85 1387.19 C192.86 1387.21 192.87 1387.23 192.89 1387.25 C192.90 1387.27 192.91 1387.29 192.92 1387.30 C192.94 1387.31 192.95 1387.33 192.96 1387.33 C192.98 1387.34 192.99 1387.35 193.00 1387.36 C193.01 1387.36 193.03 1387.36 193.04 1387.36 C193.05 1387.36 193.07 1387.36 193.08 1387.36 C193.09 1387.35 193.10 1387.34 193.12 1387.33 C193.13 1387.32 193.14 1387.31 193.16 1387.30 C193.17 1387.28 193.18 1387.27 193.19 1387.25 C193.21 1387.23 193.22 1387.21 193.23 1387.19 C193.25 1387.16 193.26 1387.14 193.27 1387.11 C193.30 1387.06 193.32 1386.99 193.35 1386.92 C193.40 1386.77 193.45 1386.59 193.50 1386.37 C193.68 1385.61 193.86 1384.42 194.04 1382.82 C194.28 1380.66 194.53 1377.77 194.77 1374.21 C194.95 1371.59 195.13 1368.61 195.31 1365.31 C195.45 1362.72 195.59 1359.92 195.73 1356.93 C195.86 1354.22 195.99 1351.36 196.12 1348.35 C196.23 1345.64 196.35 1342.81 196.46 1339.87 C196.57 1337.26 196.67 1334.56 196.77 1331.77 C196.87 1328.98 196.98 1326.11 197.08 1323.15 C197.17 1320.56 197.26 1317.91 197.35 1315.19 C197.44 1312.47 197.53 1309.69 197.62 1306.85 C197.71 1304.01 197.80 1301.11 197.89 1298.14 C197.96 1295.61 198.04 1293.02 198.12 1290.40 C198.19 1287.77 198.27 1285.11 198.35 1282.40 C198.43 1279.69 198.50 1276.94 198.58 1274.14 C198.66 1271.35 198.73 1268.52 198.81 1265.65 C198.89 1262.78 198.96 1259.87 199.04 1256.92 C199.12 1253.97 199.20 1250.98 199.27 1247.96 C199.34 1245.44 199.40 1242.89 199.46 1240.32 C199.53 1237.75 199.59 1235.16 199.66 1232.53 C199.72 1229.91 199.78 1227.27 199.85 1224.60 C199.91 1221.93 199.98 1219.23 200.04 1216.52 C200.11 1213.80 200.17 1211.06 200.23 1208.30 C200.30 1205.53 200.36 1202.75 200.43 1199.94 C200.49 1197.13 200.55 1194.30 200.62 1191.45 C200.68 1188.60 200.75 1185.72 200.81 1182.83 C200.87 1179.94 200.94 1177.02 201.00 1174.09 C201.07 1171.15 201.13 1168.20 201.20 1165.22 C201.26 1162.25 201.32 1159.25 201.39 1156.24 C201.44 1153.83 201.49 1151.40 201.54 1148.97 C201.59 1146.53 201.64 1144.09 201.70 1141.63 C201.75 1139.17 201.80 1136.70 201.85 1134.22 C201.90 1131.74 201.95 1129.24 202.00 1126.74 C202.05 1124.23 202.11 1121.72 202.16 1119.19 C202.21 1116.66 202.26 1114.12 202.31 1111.57 C202.36 1109.02 202.41 1106.46 202.46 1103.89 C202.52 1101.32 202.57 1098.74 202.62 1096.15 C202.67 1093.56 202.72 1090.95 202.77 1088.34 C202.82 1085.73 202.88 1083.10 202.93 1080.47 C202.98 1077.83 203.03 1075.19 203.08 1072.54 C203.13 1069.88 203.18 1067.22 203.23 1064.54 C203.29 1061.87 203.34 1059.19 203.39 1056.49 C203.44 1053.80 203.49 1051.10 203.54 1048.39 C203.59 1045.67 203.64 1042.95 203.70 1040.22 C203.75 1037.49 203.80 1034.75 203.85 1032.00 C203.90 1029.25 203.95 1026.50 204.00 1023.73 C204.05 1020.96 204.11 1018.19 204.16 1015.40 C204.21 1012.62 204.26 1009.83 204.31 1007.03 C204.36 1004.23 204.41 1001.42 204.47 998.60 C204.52 995.78 204.57 992.96 204.62 990.12 C204.67 987.29 204.72 984.45 204.77 981.60 C204.82 978.75 204.88 975.89 204.93 973.03 C204.98 970.16 205.03 967.29 205.08 964.41 C205.13 961.53 205.18 958.64 205.23 955.75 C205.29 952.85 205.34 949.95 205.39 947.04 C205.44 944.13 205.49 941.22 205.54 938.29 C205.59 935.37 205.64 932.44 205.70 929.51 C205.75 926.57 205.80 923.63 205.85 920.68 C205.90 917.73 205.95 914.77 206.00 911.81 C206.06 908.85 206.11 905.88 206.16 902.91 C206.21 899.93 206.26 896.95 206.31 893.97 C206.36 890.98 206.41 887.99 206.47 884.99 C206.50 882.74 206.54 880.49 206.58 878.24 C206.62 875.98 206.66 873.73 206.70 871.47 C206.73 869.20 206.77 866.94 206.81 864.67 C206.85 862.41 206.89 860.14 206.93 857.87 C206.97 855.59 207.00 853.32 207.04 851.04 C207.08 848.76 207.12 846.48 207.16 844.20 C207.20 841.92 207.23 839.63 207.27 837.34 C207.31 835.05 207.35 832.76 207.39 830.47 C207.43 828.18 207.47 825.88 207.50 823.58 C207.54 821.28 207.58 818.98 207.62 816.68 C207.66 814.38 207.70 812.07 207.73 809.76 C207.77 807.45 207.81 805.14 207.85 802.83 C207.89 800.52 207.93 798.21 207.97 795.89 C208.00 793.58 208.04 791.26 208.08 788.94 C208.12 786.62 208.16 784.30 208.20 781.98 C208.23 779.66 208.27 777.34 208.31 775.01 C208.35 772.69 208.39 770.36 208.43 768.04 C208.47 765.71 208.50 763.39 208.54 761.06 C208.58 758.73 208.62 756.40 208.66 754.08 C208.70 751.75 208.74 749.42 208.77 747.09 C208.81 744.76 208.85 742.43 208.89 740.10 C208.93 737.78 208.97 735.45 209.00 733.12 C209.04 730.79 209.08 728.46 209.12 726.13 C209.16 723.81 209.20 721.48 209.24 719.15 C209.27 716.83 209.31 714.50 209.35 712.18 C209.39 709.85 209.43 707.53 209.47 705.20 C209.50 702.88 209.54 700.56 209.58 698.24 C209.62 695.92 209.66 693.60 209.70 691.28 C209.74 688.97 209.77 686.65 209.81 684.34 C209.85 682.02 209.89 679.71 209.93 677.40 C209.97 675.09 210.00 672.78 210.04 670.48 C210.08 668.17 210.12 665.87 210.16 663.56 C210.20 661.26 210.24 658.96 210.27 656.67 C210.31 654.37 210.35 652.08 210.39 649.79 C210.43 647.50 210.47 645.21 210.50 642.92 C210.54 640.64 210.58 638.36 210.62 636.08 C210.66 633.80 210.70 631.53 210.74 629.26 C210.77 626.98 210.81 624.72 210.85 622.45 C210.89 620.19 210.93 617.93 210.97 615.67 C211.00 613.42 211.04 611.16 211.08 608.92 C211.13 605.92 211.18 602.93 211.24 599.95 C211.29 596.96 211.34 593.99 211.39 591.02 C211.44 588.06 211.49 585.10 211.54 582.15 C211.59 579.21 211.65 576.27 211.70 573.34 C211.75 570.41 211.80 567.49 211.85 564.58 C211.90 561.67 211.95 558.77 212.00 555.88 C212.06 552.99 212.11 550.11 212.16 547.24 C212.21 544.38 212.26 541.52 212.31 538.67 C212.36 535.83 212.42 533.00 212.47 530.18 C212.52 527.35 212.57 524.55 212.62 521.75 C212.67 518.95 212.72 516.17 212.77 513.40 C212.83 510.63 212.88 507.87 212.93 505.13 C212.98 502.38 213.03 499.65 213.08 496.94 C213.13 494.22 213.18 491.52 213.24 488.83 C213.29 486.15 213.34 483.47 213.39 480.82 C213.44 478.16 213.49 475.52 213.54 472.89 C213.59 470.26 213.65 467.65 213.70 465.06 C213.75 462.47 213.80 459.89 213.85 457.33 C213.90 454.77 213.95 452.22 214.01 449.70 C214.06 447.17 214.11 444.66 214.16 442.17 C214.21 439.68 214.26 437.20 214.31 434.75 C214.36 432.29 214.42 429.85 214.47 427.44 C214.53 424.41 214.60 421.42 214.66 418.46 C214.72 415.49 214.79 412.56 214.85 409.66 C214.92 406.76 214.98 403.89 215.04 401.05 C215.11 398.22 215.17 395.41 215.24 392.64 C215.30 389.87 215.36 387.13 215.43 384.43 C215.49 381.72 215.56 379.05 215.62 376.41 C215.68 373.77 215.75 371.16 215.81 368.59 C215.88 366.02 215.94 363.48 216.01 360.97 C216.08 357.95 216.16 354.99 216.24 352.07 C216.31 349.15 216.39 346.28 216.47 343.45 C216.54 340.62 216.62 337.84 216.70 335.10 C216.77 332.36 216.85 329.67 216.93 327.02 C217.01 324.37 217.08 321.77 217.16 319.21 C217.25 316.22 217.34 313.29 217.43 310.42 C217.52 307.55 217.61 304.74 217.70 301.99 C217.79 299.24 217.88 296.54 217.97 293.91 C218.07 290.89 218.17 287.95 218.28 285.09 C218.38 282.22 218.48 279.43 218.58 276.71 C218.70 273.66 218.81 270.69 218.93 267.81 C219.04 264.93 219.16 262.15 219.28 259.45 C219.40 256.45 219.53 253.56 219.66 250.78 C219.80 247.72 219.94 244.79 220.08 241.99 C220.24 238.93 220.39 236.02 220.54 233.26 C220.71 230.26 220.88 227.44 221.04 224.79 C221.24 221.73 221.43 218.89 221.62 216.26 C221.87 212.93 222.11 209.95 222.35 207.30 C222.67 203.81 222.99 200.89 223.31 198.50 C223.67 195.82 224.03 193.82 224.39 192.43 C224.52 191.93 224.65 191.52 224.78 191.18 C224.85 190.97 224.93 190.80 225.01 190.65 C225.05 190.57 225.08 190.51 225.12 190.44 C225.16 190.38 225.20 190.33 225.24 190.28 C225.26 190.25 225.29 190.22 225.31 190.19 C225.33 190.18 225.34 190.17 225.35 190.16 C225.37 190.15 225.38 190.14 225.39 190.13 C225.40 190.12 225.42 190.11 225.43 190.10 C225.44 190.09 225.46 190.08 225.47 190.07 C225.48 190.07 225.49 190.06 225.51 190.06 C225.52 190.05 225.53 190.04 225.55 190.04 C225.56 190.04 225.57 190.03 225.58 190.03 C225.60 190.03 225.61 190.02 225.62 190.02 C225.64 190.02 225.65 190.02 225.66 190.02 C225.67 190.02 225.69 190.02 225.70 190.02 C225.71 190.03 225.73 190.03 225.74 190.03 C225.75 190.03 225.76 190.04 225.78 190.04 C225.79 190.05 225.80 190.05 225.81 190.06 C225.83 190.06 225.84 190.07 225.85 190.08 C225.87 190.08 225.88 190.09 225.89 190.10 C225.90 190.11 225.92 190.12 225.93 190.13 C225.94 190.14 225.96 190.15 225.97 190.16 C225.99 190.18 226.02 190.21 226.05 190.24 C226.07 190.26 226.10 190.30 226.12 190.33 C226.16 190.38 226.20 190.44 226.24 190.50 C226.30 190.60 226.37 190.73 226.43 190.87 C226.55 191.12 226.66 191.42 226.78 191.78 C227.03 192.57 227.29 193.62 227.55 194.91 C227.98 197.11 228.42 200.00 228.85 203.51 C229.17 206.08 229.49 208.98 229.82 212.18 C230.08 214.87 230.35 217.76 230.62 220.84 C230.87 223.62 231.11 226.56 231.35 229.63 C231.57 232.38 231.79 235.24 232.01 238.19 C232.21 240.98 232.42 243.85 232.62 246.79 C232.82 249.55 233.01 252.38 233.20 255.27 C233.39 258.16 233.59 261.11 233.78 264.10 C233.96 266.90 234.14 269.74 234.32 272.62 C234.50 275.50 234.68 278.42 234.85 281.37 C235.03 284.32 235.21 287.29 235.39 290.30 C235.56 293.08 235.73 295.89 235.89 298.72 C236.06 301.54 236.23 304.38 236.39 307.23 C236.56 310.08 236.73 312.93 236.89 315.80 C237.06 318.66 237.23 321.53 237.39 324.39 C237.56 327.26 237.73 330.12 237.89 332.98 C238.06 335.84 238.23 338.69 238.39 341.53 C238.56 344.37 238.73 347.20 238.89 350.01 C239.06 352.83 239.23 355.62 239.39 358.39 C239.57 361.38 239.75 364.33 239.93 367.26 C240.11 370.19 240.29 373.08 240.47 375.93 C240.65 378.78 240.83 381.60 241.01 384.36 C241.20 387.33 241.39 390.24 241.59 393.09 C241.79 396.12 242.00 399.09 242.20 401.98 C242.42 405.05 242.64 408.03 242.86 410.90 C243.09 413.95 243.32 416.88 243.55 419.68 C243.80 422.79 244.06 425.74 244.32 428.51 C244.61 431.70 244.91 434.65 245.20 437.33 C245.57 440.71 245.95 443.67 246.32 446.14 C246.72 448.78 247.11 450.86 247.51 452.32 C247.65 452.84 247.79 453.28 247.93 453.64 C248.01 453.83 248.09 454.00 248.16 454.15 C248.22 454.24 248.27 454.33 248.32 454.40 C248.34 454.44 248.37 454.47 248.40 454.50 C248.42 454.54 248.45 454.57 248.47 454.59 C248.50 454.62 248.52 454.64 248.55 454.66 C248.56 454.67 248.58 454.68 248.59 454.69 C248.60 454.70 248.61 454.71 248.63 454.72 C248.64 454.72 248.65 454.73 248.66 454.74 C248.68 454.74 248.69 454.75 248.70 454.75 C248.72 454.76 248.73 454.76 248.74 454.77 C248.75 454.77 248.77 454.77 248.78 454.78 C248.79 454.78 248.81 454.78 248.82 454.78 C248.83 454.78 248.84 454.78 248.86 454.78 C248.87 454.78 248.88 454.78 248.90 454.78 C248.91 454.78 248.92 454.77 248.93 454.77 C248.95 454.77 248.96 454.76 248.97 454.76 C248.99 454.76 249.00 454.75 249.01 454.74 C249.02 454.74 249.04 454.73 249.05 454.73 C249.06 454.72 249.08 454.71 249.09 454.70 C249.10 454.69 249.11 454.69 249.13 454.68 C249.15 454.66 249.18 454.64 249.20 454.61 C249.23 454.59 249.25 454.56 249.28 454.53 C249.32 454.49 249.36 454.44 249.40 454.38 C249.45 454.31 249.50 454.22 249.55 454.13 C249.64 453.96 249.73 453.77 249.82 453.54 C249.99 453.12 250.15 452.60 250.32 451.98 C250.81 450.16 251.29 447.50 251.78 444.10 C252.14 441.60 252.50 438.70 252.86 435.45 C253.15 432.77 253.45 429.86 253.74 426.74 C254.00 424.02 254.26 421.14 254.51 418.11 C254.74 415.39 254.97 412.55 255.20 409.60 C255.42 406.82 255.64 403.94 255.86 400.98 C256.06 398.19 256.27 395.33 256.47 392.40 C256.67 389.65 256.86 386.85 257.05 383.99 C257.24 381.13 257.44 378.22 257.63 375.27 C257.81 372.51 257.99 369.72 258.17 366.89 C258.35 364.06 258.53 361.20 258.70 358.31 C258.88 355.42 259.06 352.50 259.24 349.56 C259.42 346.62 259.60 343.66 259.78 340.68 C259.96 337.70 260.14 334.70 260.32 331.70 C260.49 328.90 260.65 326.10 260.82 323.29 C260.99 320.49 261.15 317.68 261.32 314.86 C261.49 312.05 261.65 309.24 261.82 306.43 C261.99 303.62 262.15 300.81 262.32 298.01 C262.49 295.22 262.65 292.43 262.82 289.65 C263.00 286.66 263.18 283.69 263.36 280.73 C263.54 277.77 263.72 274.84 263.90 271.92 C264.08 269.00 264.26 266.10 264.44 263.22 C264.62 260.34 264.80 257.48 264.98 254.64 C265.15 251.80 265.33 248.98 265.51 246.19 C265.71 243.19 265.90 240.22 266.09 237.27 C266.28 234.33 266.48 231.41 266.67 228.52 C266.86 225.63 267.05 222.77 267.24 219.93 C267.45 216.91 267.66 213.91 267.86 210.96 C268.07 208.00 268.27 205.08 268.48 202.19 C268.68 199.30 268.89 196.44 269.09 193.63 C269.31 190.64 269.53 187.68 269.75 184.78 C269.96 181.87 270.18 179.00 270.40 176.18 C270.63 173.20 270.86 170.26 271.09 167.38 C271.34 164.33 271.58 161.34 271.82 158.42 C272.07 155.49 272.31 152.63 272.55 149.83 C272.81 146.88 273.07 144.00 273.32 141.19 C273.59 138.24 273.86 135.37 274.13 132.58 C274.43 129.53 274.72 126.58 275.02 123.73 C275.34 120.64 275.66 117.66 275.98 114.82 C276.32 111.74 276.67 108.82 277.02 106.05 C277.41 102.87 277.81 99.89 278.21 97.13 C278.67 93.93 279.13 91.02 279.59 88.41 C280.21 84.93 280.82 82.00 281.44 79.65 C281.84 78.13 282.23 76.85 282.63 75.83 C282.84 75.30 283.04 74.84 283.25 74.45 C283.38 74.21 283.50 73.99 283.63 73.80 C283.72 73.67 283.81 73.55 283.90 73.44 C283.97 73.36 284.03 73.29 284.09 73.23 C284.15 73.18 284.20 73.14 284.25 73.09 C284.30 73.05 284.35 73.02 284.40 72.98 C284.44 72.96 284.48 72.94 284.52 72.92 C284.56 72.90 284.59 72.88 284.63 72.87 C284.66 72.86 284.68 72.85 284.71 72.85 C284.73 72.84 284.76 72.83 284.79 72.83 C284.81 72.82 284.84 72.82 284.86 72.82 C284.89 72.81 284.91 72.81 284.94 72.81 C284.97 72.81 284.99 72.81 285.02 72.81 C285.04 72.82 285.07 72.82 285.09 72.82 C285.12 72.83 285.15 72.83 285.17 72.84 C285.20 72.85 285.22 72.85 285.25 72.86 C285.29 72.88 285.32 72.89 285.36 72.91 C285.40 72.93 285.44 72.95 285.48 72.97 C285.52 73.00 285.56 73.02 285.59 73.05 C285.65 73.09 285.70 73.13 285.75 73.18 C285.81 73.24 285.88 73.31 285.94 73.38 C286.03 73.48 286.12 73.60 286.21 73.73 C286.34 73.92 286.47 74.14 286.59 74.39 C286.80 74.78 287.00 75.25 287.21 75.79 C287.63 76.90 288.06 78.31 288.48 79.99 C289.08 82.39 289.68 85.34 290.29 88.78 C290.75 91.42 291.21 94.34 291.67 97.51 C292.07 100.24 292.47 103.16 292.86 106.25 C293.22 109.04 293.58 111.96 293.94 115.01 C294.27 117.84 294.61 120.77 294.94 123.80 C295.25 126.59 295.56 129.46 295.86 132.41 C296.16 135.23 296.45 138.11 296.75 141.05 C297.03 143.86 297.31 146.73 297.60 149.63 C297.88 152.54 298.16 155.49 298.44 158.48 C298.71 161.33 298.98 164.22 299.25 167.13 C299.52 170.04 299.79 172.98 300.06 175.94 C300.33 178.90 300.60 181.88 300.87 184.88 C301.12 187.73 301.38 190.60 301.64 193.47 C301.89 196.34 302.15 199.22 302.40 202.11 C302.66 204.99 302.92 207.87 303.17 210.76 C303.43 213.64 303.69 216.52 303.94 219.39 C304.20 222.26 304.46 225.12 304.71 227.96 C304.98 230.95 305.25 233.93 305.52 236.88 C305.79 239.83 306.06 242.76 306.33 245.66 C306.60 248.56 306.87 251.44 307.14 254.28 C307.42 257.25 307.70 260.19 307.98 263.08 C308.28 266.10 308.57 269.07 308.87 271.99 C309.17 275.03 309.48 278.01 309.79 280.92 C310.11 283.95 310.43 286.90 310.75 289.76 C311.09 292.74 311.42 295.61 311.75 298.39 C312.12 301.48 312.50 304.45 312.87 307.29 C313.27 310.33 313.66 313.22 314.06 315.98 C314.51 319.09 314.96 322.01 315.41 324.76 C315.92 327.91 316.43 330.82 316.95 333.50 C317.56 336.72 318.18 339.62 318.79 342.19 C319.61 345.62 320.43 348.48 321.25 350.79 C321.74 352.16 322.23 353.34 322.72 354.33 C323.02 354.95 323.33 355.50 323.64 355.97 C323.84 356.28 324.05 356.56 324.25 356.81 C324.41 356.99 324.56 357.16 324.72 357.31 C324.84 357.43 324.97 357.54 325.10 357.64 C325.20 357.72 325.31 357.79 325.41 357.85 C325.50 357.91 325.59 357.96 325.68 358.00 C325.77 358.04 325.86 358.08 325.95 358.10 C326.02 358.13 326.10 358.15 326.18 358.17 C326.25 358.18 326.33 358.19 326.41 358.20 C326.49 358.21 326.56 358.21 326.64 358.21 C326.72 358.21 326.79 358.20 326.87 358.19 C326.95 358.18 327.02 358.16 327.10 358.14 C327.19 358.12 327.28 358.09 327.37 358.05 C327.46 358.02 327.55 357.98 327.64 357.93 C327.75 357.87 327.87 357.80 327.99 357.72 C328.13 357.63 328.27 357.52 328.41 357.40 C328.59 357.24 328.77 357.06 328.95 356.87 C329.20 356.59 329.46 356.27 329.72 355.91 C330.13 355.34 330.54 354.67 330.95 353.93 C331.85 352.31 332.74 350.31 333.64 348.09 C334.69 345.50 335.74 342.62 336.79 339.69 C337.82 336.83 338.85 333.94 339.87 331.25 C341.06 328.12 342.26 325.29 343.45 323.01 C344.07 321.83 344.68 320.78 345.30 319.89 C345.69 319.31 346.09 318.79 346.49 318.33 C346.77 318.01 347.05 317.72 347.34 317.46 C347.55 317.27 347.77 317.09 347.99 316.93 C348.17 316.80 348.35 316.69 348.53 316.59 C348.68 316.50 348.84 316.43 348.99 316.36 C349.13 316.30 349.27 316.25 349.41 316.21 C349.54 316.17 349.67 316.14 349.80 316.12 C349.93 316.10 350.05 316.08 350.18 316.07 C350.30 316.07 350.41 316.07 350.53 316.07 C350.64 316.08 350.76 316.09 350.87 316.11 C351.00 316.13 351.13 316.16 351.26 316.20 C351.39 316.24 351.52 316.28 351.64 316.34 C351.78 316.40 351.93 316.47 352.07 316.55 C352.22 316.63 352.37 316.73 352.53 316.84 C352.72 316.98 352.91 317.14 353.11 317.32 C353.34 317.53 353.57 317.77 353.80 318.04 C354.09 318.39 354.39 318.78 354.68 319.22 C355.09 319.83 355.50 320.54 355.91 321.34 C356.54 322.57 357.17 324.02 357.80 325.72 C358.67 328.08 359.54 330.90 360.41 334.22 C361.09 336.81 361.77 339.70 362.45 342.92 C363.02 345.58 363.58 348.47 364.15 351.59 C364.65 354.35 365.15 357.30 365.65 360.43 C366.09 363.24 366.54 366.21 366.99 369.33 C367.39 372.09 367.79 374.98 368.18 377.98 C368.56 380.80 368.93 383.72 369.30 386.73 C369.65 389.53 369.99 392.41 370.34 395.37 C370.67 398.21 371.01 401.12 371.34 404.09 C371.66 406.94 371.98 409.85 372.30 412.80 C372.61 415.63 372.92 418.51 373.22 421.42 C373.53 424.33 373.84 427.28 374.15 430.25 C374.44 433.10 374.74 435.98 375.03 438.88 C375.33 441.78 375.62 444.70 375.92 447.64 C376.21 450.57 376.51 453.52 376.80 456.48 C377.10 459.44 377.39 462.41 377.69 465.38 C377.98 468.35 378.28 471.33 378.57 474.31 C378.87 477.28 379.16 480.25 379.46 483.22 C379.75 486.18 380.05 489.14 380.34 492.08 C380.64 495.02 380.93 497.95 381.23 500.86 C381.52 503.77 381.82 506.66 382.11 509.53 C382.42 512.52 382.73 515.48 383.03 518.41 C383.34 521.34 383.65 524.23 383.96 527.09 C384.28 530.06 384.60 532.99 384.92 535.87 C385.25 538.86 385.59 541.80 385.92 544.68 C386.26 547.66 386.61 550.58 386.96 553.44 C387.32 556.41 387.68 559.30 388.03 562.13 C388.42 565.15 388.80 568.10 389.19 570.97 C389.59 573.94 389.98 576.82 390.38 579.62 C390.80 582.60 391.23 585.49 391.65 588.28 C392.11 591.33 392.57 594.27 393.03 597.09 C393.54 600.16 394.04 603.09 394.54 605.90 C395.09 608.99 395.64 611.93 396.19 614.72 C396.80 617.83 397.42 620.75 398.04 623.48 C398.74 626.61 399.45 629.50 400.15 632.14 C401.01 635.36 401.87 638.21 402.73 640.71 C403.68 643.48 404.63 645.81 405.58 647.78 C406.24 649.17 406.91 650.37 407.58 651.41 C408.09 652.22 408.60 652.93 409.11 653.55 C409.54 654.07 409.96 654.53 410.38 654.94 C410.76 655.30 411.13 655.62 411.50 655.90 C411.85 656.17 412.19 656.40 412.54 656.60 C412.87 656.80 413.20 656.97 413.54 657.12 C413.88 657.28 414.23 657.41 414.58 657.51 C414.95 657.63 415.32 657.72 415.69 657.79 C416.13 657.87 416.56 657.92 417.00 657.95 C417.60 657.99 418.21 657.99 418.81 657.95 C421.46 657.81 424.12 657.13 426.77 657.30 C427.21 657.33 427.64 657.38 428.08 657.46 C428.45 657.53 428.82 657.62 429.19 657.74 C429.54 657.84 429.89 657.97 430.23 658.13 C430.57 658.27 430.90 658.45 431.23 658.64 C431.58 658.85 431.93 659.08 432.27 659.34 C432.64 659.63 433.02 659.95 433.39 660.30 C433.81 660.71 434.23 661.17 434.66 661.69 C435.17 662.31 435.68 663.02 436.20 663.82 C436.86 664.87 437.53 666.07 438.20 667.45 C439.16 669.44 440.12 671.81 441.08 674.62 C441.93 677.09 442.77 679.91 443.62 683.11 C444.31 685.73 445.01 688.61 445.70 691.77 C446.29 694.46 446.88 697.35 447.47 700.41 C448.01 703.20 448.54 706.14 449.08 709.19 C449.58 712.03 450.08 714.97 450.58 718.00 C451.06 720.87 451.53 723.83 452.01 726.85 C452.46 729.71 452.90 732.62 453.35 735.58 C453.79 738.46 454.22 741.38 454.66 744.34 C455.08 747.21 455.51 750.11 455.93 753.03 C456.35 755.95 456.78 758.89 457.20 761.85 C457.62 764.80 458.05 767.77 458.47 770.74 C458.89 773.71 459.32 776.68 459.74 779.64 C460.16 782.61 460.58 785.56 461.01 788.50 C461.43 791.44 461.85 794.36 462.28 797.25 C462.71 800.23 463.15 803.18 463.59 806.09 C464.02 809.01 464.46 811.90 464.89 814.75 C465.34 817.68 465.79 820.58 466.24 823.44 C466.70 826.38 467.16 829.27 467.62 832.12 C468.11 835.13 468.60 838.09 469.09 841.00 C469.59 843.98 470.09 846.90 470.59 849.76 C471.11 852.77 471.64 855.71 472.16 858.58 C472.71 861.58 473.27 864.51 473.82 867.35 C474.41 870.39 475.00 873.33 475.59 876.17 C476.22 879.19 476.84 882.09 477.47 884.86 C478.16 887.92 478.86 890.82 479.55 893.56 C480.33 896.65 481.11 899.52 481.90 902.20 C482.79 905.27 483.69 908.09 484.59 910.67 C485.67 913.77 486.74 916.55 487.82 919.05 C489.14 922.11 490.46 924.77 491.78 927.12 C493.21 929.65 494.63 931.82 496.05 933.77 C497.78 936.13 499.51 938.16 501.25 940.01 C503.39 942.30 505.53 944.31 507.67 946.29 C509.82 948.29 511.98 950.26 514.13 952.48 C515.97 954.36 517.80 956.43 519.63 958.84 C521.21 960.91 522.79 963.23 524.36 965.91 C525.75 968.26 527.13 970.89 528.52 973.87 C529.67 976.35 530.83 979.07 531.98 982.07 C532.98 984.67 533.98 987.50 534.98 990.49 C535.89 993.22 536.80 996.08 537.71 999.03 C538.57 1001.81 539.43 1004.67 540.29 1007.56 C541.14 1010.42 541.98 1013.31 542.83 1016.19 C543.68 1019.07 544.52 1021.95 545.37 1024.78 C546.24 1027.70 547.11 1030.57 547.98 1033.36 C548.89 1036.28 549.80 1039.12 550.72 1041.88 C551.66 1044.77 552.61 1047.57 553.56 1050.30 C554.56 1053.17 555.56 1055.97 556.56 1058.68 C557.63 1061.57 558.69 1064.37 559.76 1067.08 C560.87 1069.93 561.99 1072.69 563.10 1075.35 C564.28 1078.18 565.46 1080.90 566.64 1083.54 C567.90 1086.35 569.15 1089.06 570.41 1091.67 C571.74 1094.45 573.08 1097.12 574.41 1099.71 C575.82 1102.44 577.23 1105.06 578.64 1107.60 C580.13 1110.27 581.62 1112.85 583.11 1115.34 C584.68 1117.98 586.26 1120.52 587.84 1122.98 C589.49 1125.56 591.14 1128.06 592.80 1130.49 C594.52 1133.01 596.24 1135.46 597.95 1137.86 C599.71 1140.32 601.47 1142.72 603.22 1145.10 C605.02 1147.53 606.81 1149.92 608.61 1152.28 C610.43 1154.68 612.25 1157.04 614.07 1159.36 C615.93 1161.73 617.79 1164.07 619.65 1166.37 C621.55 1168.72 623.45 1171.03 625.34 1173.31 C627.28 1175.63 629.22 1177.91 631.15 1180.16 C633.13 1182.45 635.10 1184.71 637.08 1186.92 C639.09 1189.18 641.10 1191.40 643.12 1193.58 C645.17 1195.80 647.22 1197.98 649.27 1200.13 C651.36 1202.31 653.45 1204.45 655.54 1206.55 C657.67 1208.69 659.80 1210.79 661.93 1212.85 C664.09 1214.95 666.26 1217.00 668.43 1219.01 C670.65 1221.07 672.86 1223.09 675.08 1225.07 C677.34 1227.08 679.60 1229.04 681.85 1230.96 C684.15 1232.92 686.44 1234.83 688.74 1236.70 C691.08 1238.61 693.43 1240.47 695.78 1242.29 C698.18 1244.14 700.57 1245.94 702.97 1247.69 C705.42 1249.47 707.87 1251.20 710.32 1252.87 C712.82 1254.57 715.32 1256.21 717.82 1257.79 C720.38 1259.40 722.95 1260.95 725.51 1262.42 C728.14 1263.93 730.77 1265.36 733.40 1266.71 C736.09 1268.10 738.78 1269.40 741.48 1270.62 C744.23 1271.86 746.99 1273.01 749.75 1274.06 C752.57 1275.14 755.39 1276.12 758.21 1277.04 C761.08 1277.96 763.96 1278.82 766.83 1279.63 C769.73 1280.44 772.62 1281.20 775.52 1281.94 C778.42 1282.68 781.32 1283.40 784.22 1284.12 C787.11 1284.84 790.01 1285.57 792.91 1286.32 C795.81 1287.07 798.71 1287.83 801.60 1288.61 C804.49 1289.39 807.37 1290.18 810.26 1290.99 C813.14 1291.79 816.03 1292.60 818.91 1293.42 C821.80 1294.23 824.68 1295.06 827.57 1295.88 C830.44 1296.70 833.31 1297.53 836.19 1298.35 C839.07 1299.17 841.96 1300.00 844.84 1300.81 C847.73 1301.63 850.61 1302.44 853.50 1303.24 C856.38 1304.04 859.27 1304.83 862.15 1305.60 C865.05 1306.38 867.95 1307.14 870.85 1307.89 C873.74 1308.64 876.64 1309.36 879.54 1310.07 C882.45 1310.78 885.36 1311.47 888.27 1312.14 C891.19 1312.81 894.12 1313.46 897.04 1314.09 C899.97 1314.73 902.89 1315.34 905.81 1315.93 C908.75 1316.53 911.69 1317.10 914.62 1317.66 C917.57 1318.21 920.52 1318.75 923.47 1319.27 C926.42 1319.78 929.37 1320.28 932.32 1320.76 C935.28 1321.24 938.24 1321.69 941.20 1322.13 C944.17 1322.57 947.13 1322.99 950.09 1323.39 C953.06 1323.79 956.04 1324.16 959.01 1324.52 C961.99 1324.88 964.96 1325.22 967.94 1325.54 C970.91 1325.85 973.89 1326.15 976.86 1326.43 C979.85 1326.71 982.84 1326.97 985.83 1327.20 C988.81 1327.44 991.80 1327.66 994.79 1327.86 C997.78 1328.05 1000.76 1328.23 1003.75 1328.39 C1006.74 1328.54 1009.73 1328.68 1012.72 1328.79 C1015.70 1328.91 1018.69 1329.01 1021.68 1329.08 C1024.67 1329.16 1027.65 1329.21 1030.64 1329.25 C1033.63 1329.28 1036.62 1329.30 1039.60 1329.29 C1042.59 1329.29 1045.58 1329.26 1048.57 1329.22 C1051.55 1329.17 1054.54 1329.11 1057.53 1329.02 C1060.52 1328.94 1063.51 1328.83 1066.49 1328.71 C1069.48 1328.58 1072.47 1328.44 1075.46 1328.27 C1078.44 1328.11 1081.43 1327.92 1084.42 1327.72 C1087.41 1327.52 1090.39 1327.29 1093.38 1327.05 C1096.37 1326.80 1099.36 1326.54 1102.35 1326.26 C1103.90 1326.11 1105.45 1325.96 1107.00 1325.80 C1107.42 1327.88 1107.85 1330.90 1108.27 1334.39 C1108.60 1337.14 1108.94 1340.18 1109.27 1343.27 C1109.59 1346.24 1109.91 1349.25 1110.23 1352.10 C1110.60 1355.40 1110.97 1358.48 1111.35 1361.01 C1111.65 1363.10 1111.96 1364.81 1112.27 1365.96 C1112.36 1366.29 1112.45 1366.58 1112.54 1366.81 C1112.59 1366.94 1112.64 1367.06 1112.69 1367.16 C1112.72 1367.20 1112.74 1367.25 1112.77 1367.29 C1112.78 1367.31 1112.79 1367.33 1112.81 1367.34 C1112.82 1367.36 1112.83 1367.38 1112.84 1367.39 C1112.86 1367.41 1112.87 1367.42 1112.88 1367.43 C1112.90 1367.45 1112.91 1367.46 1112.92 1367.47 C1112.93 1367.48 1112.95 1367.49 1112.96 1367.50 C1112.97 1367.50 1112.99 1367.51 1113.00 1367.52 C1113.01 1367.52 1113.02 1367.53 1113.04 1367.53 C1113.05 1367.53 1113.06 1367.53 1113.08 1367.53 C1113.09 1367.53 1113.10 1367.53 1113.11 1367.53 C1113.13 1367.53 1113.14 1367.53 1113.15 1367.52 C1113.17 1367.52 1113.18 1367.51 1113.19 1367.50 C1113.20 1367.50 1113.22 1367.49 1113.23 1367.48 C1113.24 1367.47 1113.25 1367.46 1113.27 1367.44 C1113.28 1367.43 1113.29 1367.42 1113.31 1367.40 C1113.32 1367.39 1113.33 1367.37 1113.34 1367.35 C1113.37 1367.31 1113.40 1367.27 1113.42 1367.23 C1113.46 1367.16 1113.50 1367.07 1113.54 1366.98 C1113.60 1366.82 1113.67 1366.62 1113.73 1366.39 C1113.88 1365.83 1114.04 1365.05 1114.19 1364.03 C1114.50 1362.01 1114.81 1359.06 1115.11 1355.43 C1115.33 1352.86 1115.55 1349.94 1115.77 1346.75 C1115.95 1344.12 1116.13 1341.32 1116.31 1338.38 C1116.47 1335.65 1116.64 1332.81 1116.81 1329.88 C1116.96 1327.18 1117.11 1324.41 1117.27 1321.59 C1117.42 1318.78 1117.57 1315.93 1117.73 1313.07 C1117.88 1310.21 1118.04 1307.33 1118.19 1304.47 C1118.34 1301.61 1118.50 1298.77 1118.65 1295.97 C1118.82 1292.94 1118.98 1289.96 1119.15 1287.07 C1119.32 1284.17 1119.48 1281.38 1119.65 1278.68 C1119.84 1275.57 1120.04 1272.58 1120.23 1269.72 C1120.43 1266.67 1120.64 1263.77 1120.84 1260.99 C1121.07 1257.88 1121.30 1254.93 1121.53 1252.15 C1121.79 1249.06 1122.05 1246.18 1122.30 1243.49 C1122.61 1240.26 1122.92 1237.30 1123.23 1234.61 C1123.61 1231.25 1124.00 1228.29 1124.38 1225.70 C1124.92 1222.08 1125.46 1219.19 1126.00 1216.93 C1126.35 1215.42 1126.71 1214.19 1127.07 1213.22 C1127.26 1212.69 1127.46 1212.24 1127.65 1211.86 C1127.78 1211.60 1127.91 1211.38 1128.03 1211.18 C1128.12 1211.04 1128.21 1210.92 1128.30 1210.81 C1128.38 1210.72 1128.46 1210.63 1128.53 1210.56 C1128.60 1210.49 1128.66 1210.44 1128.73 1210.39 C1128.78 1210.35 1128.83 1210.32 1128.88 1210.29 C1128.92 1210.26 1128.96 1210.24 1128.99 1210.23 C1129.03 1210.21 1129.07 1210.19 1129.11 1210.18 C1129.15 1210.16 1129.19 1210.15 1129.23 1210.14 C1129.26 1210.13 1129.30 1210.13 1129.34 1210.12 C1129.38 1210.12 1129.42 1210.11 1129.46 1210.11 C1129.49 1210.11 1129.53 1210.12 1129.57 1210.12 C1129.61 1210.12 1129.65 1210.13 1129.69 1210.14 C1129.73 1210.15 1129.76 1210.16 1129.80 1210.17 C1129.84 1210.18 1129.88 1210.19 1129.92 1210.21 C1129.97 1210.23 1130.02 1210.26 1130.07 1210.29 C1130.12 1210.32 1130.17 1210.35 1130.22 1210.38 C1130.29 1210.43 1130.35 1210.48 1130.42 1210.54 C1130.49 1210.60 1130.57 1210.68 1130.65 1210.76 C1130.75 1210.87 1130.85 1211.00 1130.96 1211.13 C1131.11 1211.34 1131.26 1211.58 1131.42 1211.85 C1131.66 1212.27 1131.90 1212.77 1132.15 1213.34 C1132.62 1214.45 1133.10 1215.83 1133.57 1217.45 C1134.26 1219.82 1134.95 1222.71 1135.65 1226.05 C1136.20 1228.70 1136.75 1231.64 1137.30 1234.82 C1137.77 1237.55 1138.25 1240.47 1138.72 1243.54 C1139.16 1246.35 1139.59 1249.30 1140.03 1252.36 C1140.44 1255.24 1140.85 1258.21 1141.26 1261.27 C1141.65 1264.14 1142.03 1267.07 1142.41 1270.07 C1142.79 1272.97 1143.16 1275.92 1143.53 1278.91 C1143.89 1281.80 1144.25 1284.72 1144.61 1287.68 C1144.95 1290.53 1145.30 1293.41 1145.64 1296.30 C1145.99 1299.19 1146.34 1302.10 1146.68 1305.02 C1147.03 1307.93 1147.37 1310.85 1147.72 1313.77 C1148.07 1316.69 1148.41 1319.61 1148.76 1322.51 C1149.10 1325.42 1149.45 1328.31 1149.80 1331.17 C1150.16 1334.15 1150.51 1337.10 1150.87 1340.01 C1151.25 1343.03 1151.62 1346.01 1151.99 1348.94 C1152.37 1351.97 1152.76 1354.95 1153.14 1357.86 C1153.54 1360.87 1153.94 1363.80 1154.33 1366.65 C1154.76 1369.68 1155.18 1372.62 1155.60 1375.44 C1156.06 1378.51 1156.53 1381.45 1156.99 1384.23 C1157.51 1387.39 1158.04 1390.34 1158.56 1393.05 C1159.20 1396.36 1159.85 1399.30 1160.49 1401.82 C1161.11 1404.29 1161.74 1406.33 1162.37 1407.97 C1162.73 1408.91 1163.09 1409.71 1163.45 1410.40 C1163.68 1410.83 1163.91 1411.22 1164.14 1411.56 C1164.31 1411.80 1164.47 1412.02 1164.64 1412.21 C1164.77 1412.35 1164.90 1412.49 1165.02 1412.61 C1165.13 1412.70 1165.23 1412.78 1165.33 1412.86 C1165.42 1412.93 1165.51 1412.99 1165.60 1413.04 C1165.68 1413.08 1165.75 1413.12 1165.83 1413.16 C1165.91 1413.19 1165.99 1413.22 1166.06 1413.25 C1166.13 1413.27 1166.19 1413.28 1166.25 1413.30 C1166.32 1413.31 1166.38 1413.32 1166.45 1413.33 C1166.51 1413.34 1166.57 1413.34 1166.64 1413.34 C1166.70 1413.34 1166.77 1413.34 1166.83 1413.33 C1166.91 1413.32 1166.99 1413.31 1167.06 1413.29 C1167.14 1413.28 1167.22 1413.26 1167.29 1413.23 C1167.38 1413.20 1167.47 1413.16 1167.56 1413.12 C1167.66 1413.07 1167.77 1413.01 1167.87 1412.95 C1167.98 1412.87 1168.10 1412.79 1168.22 1412.70 C1168.36 1412.58 1168.50 1412.45 1168.64 1412.31 C1168.83 1412.12 1169.02 1411.89 1169.22 1411.65 C1169.50 1411.29 1169.78 1410.87 1170.06 1410.40 C1170.52 1409.64 1170.98 1408.74 1171.45 1407.71 C1172.41 1405.57 1173.37 1402.90 1174.33 1399.83 C1175.14 1397.24 1175.94 1394.38 1176.75 1391.30 C1177.47 1388.56 1178.19 1385.66 1178.91 1382.65 C1179.57 1379.85 1180.24 1376.96 1180.90 1374.01 C1181.56 1371.13 1182.21 1368.19 1182.87 1365.24 C1183.51 1362.35 1184.15 1359.44 1184.79 1356.57 C1185.44 1353.64 1186.10 1350.74 1186.75 1347.91 C1187.44 1344.92 1188.13 1342.01 1188.83 1339.19 C1189.56 1336.22 1190.29 1333.36 1191.02 1330.61 C1191.81 1327.63 1192.61 1324.78 1193.40 1322.07 C1194.30 1319.02 1195.20 1316.16 1196.09 1313.51 C1197.13 1310.43 1198.17 1307.64 1199.21 1305.15 C1200.28 1302.56 1201.36 1300.30 1202.44 1298.40 C1203.09 1297.24 1203.75 1296.21 1204.40 1295.32 C1204.87 1294.68 1205.35 1294.10 1205.82 1293.60 C1206.19 1293.20 1206.56 1292.84 1206.94 1292.53 C1207.24 1292.27 1207.55 1292.04 1207.86 1291.83 C1208.13 1291.66 1208.40 1291.50 1208.67 1291.36 C1208.91 1291.24 1209.15 1291.13 1209.40 1291.04 C1209.63 1290.95 1209.86 1290.88 1210.09 1290.83 C1210.31 1290.77 1210.53 1290.73 1210.74 1290.71 C1210.96 1290.68 1211.18 1290.66 1211.40 1290.66 C1211.61 1290.66 1211.83 1290.67 1212.05 1290.69 C1212.28 1290.72 1212.51 1290.76 1212.74 1290.81 C1212.99 1290.86 1213.23 1290.93 1213.47 1291.02 C1213.76 1291.12 1214.04 1291.24 1214.32 1291.38 C1214.64 1291.53 1214.96 1291.71 1215.28 1291.92 C1215.67 1292.17 1216.05 1292.45 1216.43 1292.77 C1216.92 1293.17 1217.41 1293.63 1217.90 1294.14 C1218.56 1294.84 1219.23 1295.64 1219.89 1296.53 C1220.93 1297.91 1221.97 1299.53 1223.01 1301.33 C1224.41 1303.75 1225.80 1306.48 1227.20 1309.29 C1228.52 1311.94 1229.84 1314.66 1231.16 1317.29 C1232.55 1320.04 1233.93 1322.71 1235.31 1325.27 C1236.80 1328.02 1238.29 1330.63 1239.77 1333.07 C1241.43 1335.79 1243.08 1338.29 1244.73 1340.51 C1246.06 1342.29 1247.38 1343.89 1248.70 1345.28 C1249.61 1346.24 1250.52 1347.11 1251.43 1347.86 C1252.10 1348.43 1252.78 1348.93 1253.46 1349.37 C1254.01 1349.73 1254.57 1350.04 1255.12 1350.31 C1255.58 1350.54 1256.04 1350.73 1256.50 1350.90 C1256.91 1351.04 1257.32 1351.16 1257.73 1351.26 C1258.12 1351.34 1258.50 1351.41 1258.89 1351.45 C1259.24 1351.48 1259.60 1351.50 1259.96 1351.49 C1260.35 1351.49 1260.73 1351.46 1261.12 1351.41 C1261.55 1351.35 1261.99 1351.27 1262.42 1351.16 C1262.94 1351.03 1263.45 1350.86 1263.96 1350.67 C1264.60 1350.42 1265.24 1350.12 1265.88 1349.78 C1266.78 1349.31 1267.68 1348.75 1268.58 1348.13 C1270.38 1346.88 1272.19 1345.37 1274.00 1343.76 C1276.21 1341.80 1278.43 1339.69 1280.65 1337.74 C1282.35 1336.25 1284.06 1334.84 1285.76 1333.67 C1286.75 1333.00 1287.74 1332.40 1288.72 1331.89 C1289.66 1331.40 1290.60 1330.98 1291.53 1330.62 C1292.47 1330.27 1293.40 1329.98 1294.34 1329.75 C1295.31 1329.51 1296.29 1329.33 1297.26 1329.21 C1298.32 1329.08 1299.39 1329.02 1300.45 1329.02 C1301.70 1329.02 1302.94 1329.10 1304.18 1329.24 C1305.80 1329.43 1307.41 1329.74 1309.03 1330.13 C1311.88 1330.82 1314.74 1331.78 1317.60 1332.84 C1320.40 1333.87 1323.19 1334.99 1325.98 1336.02 C1328.74 1337.03 1331.50 1337.94 1334.25 1338.59 C1335.74 1338.94 1337.22 1339.22 1338.71 1339.38 C1339.99 1339.53 1341.27 1339.59 1342.56 1339.58 C1344.21 1339.57 1345.86 1339.44 1347.52 1339.23 C1350.45 1338.85 1353.39 1338.22 1356.32 1337.50 C1359.23 1336.80 1362.14 1336.02 1365.05 1335.35 C1367.99 1334.67 1370.92 1334.13 1373.86 1333.68 C1376.83 1333.23 1379.80 1332.88 1382.78 1332.59 C1385.76 1332.30 1388.75 1332.06 1391.74 1331.84 C1394.72 1331.61 1397.71 1331.40 1400.70 1331.19 C1403.68 1330.99 1406.67 1330.79 1409.66 1330.60 C1412.64 1330.42 1415.63 1330.24 1418.61 1330.07 C1421.60 1329.91 1424.59 1329.76 1427.57 1329.61 C1430.56 1329.47 1433.55 1329.34 1436.53 1329.23 C1439.52 1329.11 1442.51 1329.01 1445.49 1328.92 C1448.48 1328.83 1451.47 1328.76 1454.45 1328.70 C1457.45 1328.64 1460.45 1328.60 1463.45 1328.57 C1466.45 1328.55 1469.45 1328.54 1472.45 1328.55 C1475.45 1328.55 1478.45 1328.58 1481.45 1328.62 C1484.44 1328.66 1487.44 1328.72 1490.44 1328.79 C1493.43 1328.87 1496.42 1328.95 1499.40 1329.05 C1502.39 1329.15 1505.38 1329.27 1508.36 1329.39 C1511.35 1329.52 1514.33 1329.65 1517.32 1329.80 C1520.31 1329.94 1523.29 1330.10 1526.28 1330.26 C1529.27 1330.42 1532.25 1330.60 1535.24 1330.78 C1538.23 1330.95 1541.21 1331.14 1544.20 1331.33 C1547.19 1331.52 1550.17 1331.72 1553.16 1331.92 C1556.14 1332.12 1559.13 1332.32 1562.12 1332.52 C1565.10 1332.73 1568.09 1332.93 1571.08 1333.14 C1574.06 1333.34 1577.05 1333.54 1580.04 1333.74 C1583.02 1333.93 1586.01 1334.13 1589.00 1334.31 C1591.98 1334.50 1594.97 1334.67 1597.95 1334.84 C1600.94 1335.01 1603.93 1335.17 1606.91 1335.32 C1609.90 1335.46 1612.89 1335.60 1615.87 1335.71 C1618.86 1335.83 1621.85 1335.94 1624.83 1336.02 C1627.82 1336.11 1630.81 1336.18 1633.79 1336.23 C1636.79 1336.27 1639.79 1336.30 1642.79 1336.31 C1645.79 1336.31 1648.79 1336.29 1651.79 1336.25 C1654.77 1336.20 1657.76 1336.13 1660.75 1336.04 C1663.73 1335.94 1666.72 1335.82 1669.71 1335.67 C1672.69 1335.53 1675.68 1335.36 1678.67 1335.18 C1681.65 1334.99 1684.64 1334.79 1687.62 1334.58 C1690.61 1334.37 1693.60 1334.15 1696.58 1333.92 C1699.57 1333.69 1702.56 1333.46 1705.54 1333.22 C1708.53 1332.98 1711.52 1332.75 1714.50 1332.51 C1717.49 1332.28 1720.48 1332.04 1723.46 1331.82 C1726.45 1331.60 1729.43 1331.38 1732.42 1331.18 C1735.41 1330.98 1738.39 1330.79 1741.38 1330.62 C1744.37 1330.46 1747.35 1330.30 1750.34 1330.16 C1753.33 1330.03 1756.31 1329.91 1759.30 1329.80 C1762.29 1329.69 1765.27 1329.60 1768.26 1329.53 C1771.26 1329.45 1774.26 1329.39 1777.26 1329.34 C1780.26 1329.29 1783.25 1329.26 1786.25 1329.24 C1789.25 1329.22 1792.25 1329.21 1795.25 1329.22 C1798.25 1329.22 1801.25 1329.24 1804.25 1329.27 C1807.25 1329.30 1810.25 1329.34 1813.25 1329.39 C1816.25 1329.44 1819.25 1329.51 1822.24 1329.58 C1825.23 1329.65 1828.22 1329.73 1831.20 1329.83 C1834.19 1329.92 1837.18 1330.02 1840.16 1330.13 C1843.15 1330.24 1846.14 1330.36 1849.12 1330.49 C1852.11 1330.62 1855.10 1330.75 1858.08 1330.89 C1861.07 1331.04 1864.06 1331.19 1867.04 1331.34 C1870.03 1331.50 1873.01 1331.66 1876.00 1331.83 C1877.00 1331.89 1878.00 1331.94 1879.00 1332.00"/>
</g>
<g id="legend">
<rect x="1339" y="94" width="500" height="153" fill="#ffffff" stroke="#262626" stroke-width="4"/>
<path d="M1355 135.3 H1523" stroke="#D95319" stroke-width="10.5" fill="none"/>
<path d="M1355 205 H1523" stroke="#0072BD" stroke-width="10.5" stroke-dasharray="28 5.8 14 5.3" fill="none"/>
<text x="1533.84" y="157.8" font-size="62.4" textLength="251.69" lengthAdjust="spacingAndGlyphs" style="fill:#000" stroke="#000" stroke-width="1.2">Proposed</text>
<text x="1532.98" y="226.6" font-size="62.4" textLength="283.72" lengthAdjust="spacingAndGlyphs" style="fill:#000" stroke="#000" stroke-width="1.2">Compared</text>
</g>
<rect id="inset-bg" x="706" y="306.5" width="816" height="718.5" fill="#ffffff"/>
<g id="inset-axes">
<g stroke="#262626" stroke-opacity="0.15" fill="none">
<path d="M712 1025 V306.5 M937 1025 V306.5 M1162 1025 V306.5 M1387 1025 V306.5" stroke-width="4" stroke-dasharray="34 19.2"/>
<path d="M1522 907.6 H706 M1522 776.96 H706 M1522 646.32 H706 M1522 515.68 H706 M1522 385.04 H706" stroke-width="3.7" stroke-dasharray="34 19.3"/>
</g>
<g stroke="#262626" fill="none">
<path d="M712 1025 v-10 M712 306.5 v10 M937 1025 v-10 M937 306.5 v10 M1162 1025 v-10 M1162 306.5 v10 M1387 1025 v-10 M1387 306.5 v10" stroke-width="4"/>
<path d="M706 907.6 h10 M1522 907.6 h-10 M706 776.96 h10 M1522 776.96 h-10 M706 646.32 h10 M1522 646.32 h-10 M706 515.68 h10 M1522 515.68 h-10 M706 385.04 h10 M1522 385.04 h-10" stroke-width="3.7"/>
<path d="M706 304.9 V1026.7 M1522 304.9 V1026.7" stroke-width="4"/>
<path d="M704 306.55 H1524" stroke-width="3.3"/>
<path d="M704 1024.9 H1524" stroke-width="3.6"/>
</g>
</g>
<g id="inset-ticklabels">
<text x="694.77" y="1108.7" font-size="67.8" textLength="33.76" lengthAdjust="spacingAndGlyphs">0</text>
<text x="894.28" y="1108.7" font-size="67.8" textLength="84.01" lengthAdjust="spacingAndGlyphs">0.5</text>
<text x="1141.95" y="1108.7" font-size="67.8" textLength="36.31" lengthAdjust="spacingAndGlyphs">1</text>
<text x="1341.89" y="1108.7" font-size="67.8" textLength="87.31" lengthAdjust="spacingAndGlyphs">1.5</text>
<text x="647.35" y="931" font-size="67.8" textLength="33.9" lengthAdjust="spacingAndGlyphs">0</text>
<text x="646.87" y="800.36" font-size="67.8" textLength="33.9" lengthAdjust="spacingAndGlyphs">1</text>
<text x="647.87" y="669.72" font-size="67.8" textLength="33.9" lengthAdjust="spacingAndGlyphs">2</text>
<text x="647" y="539.08" font-size="67.8" textLength="33.9" lengthAdjust="spacingAndGlyphs">3</text>
<text x="646.78" y="408.44" font-size="67.8" textLength="33.9" lengthAdjust="spacingAndGlyphs">4</text>
</g>
<text id="inset-xlabel" stroke="#262626" stroke-width="0.7"><tspan x="980.19" y="1190.2" font-size="74" textLength="166.64" lengthAdjust="spacingAndGlyphs">Time</tspan> <tspan x="1166.49" y="1190.2" font-size="74" textLength="77.24" lengthAdjust="spacingAndGlyphs">(s)</tspan></text>
<g id="inset-curves" fill="none" stroke-width="10.5" stroke-linejoin="round">
<path stroke="#D95319" d="M712.00 907.42 C712.29 904.16 712.58 900.92 712.87 897.72 C713.16 894.52 713.44 891.35 713.73 888.22 C714.02 885.08 714.31 881.98 714.60 878.91 C714.89 875.84 715.18 872.80 715.47 869.79 C715.75 866.78 716.04 863.81 716.33 860.87 C716.62 857.93 716.91 855.01 717.20 852.14 C717.49 849.26 717.78 846.41 718.06 843.59 C718.35 840.78 718.64 837.99 718.93 835.24 C719.22 832.48 719.51 829.76 719.80 827.07 C720.09 824.38 720.37 821.72 720.66 819.09 C720.95 816.46 721.24 813.86 721.53 811.29 C721.82 808.72 722.11 806.18 722.40 803.67 C722.68 801.16 722.97 798.69 723.26 796.24 C723.55 793.79 723.84 791.37 724.13 788.98 C724.42 786.59 724.71 784.24 724.99 781.91 C725.28 779.58 725.57 777.28 725.86 775.01 C726.15 772.74 726.44 770.50 726.73 768.28 C727.02 766.07 727.30 763.89 727.59 761.74 C727.88 759.58 728.17 757.46 728.46 755.36 C728.75 753.26 729.04 751.20 729.33 749.16 C729.61 747.12 729.90 745.11 730.19 743.12 C730.48 741.14 730.77 739.19 731.06 737.26 C731.35 735.33 731.64 733.43 731.92 731.56 C732.21 729.69 732.50 727.85 732.79 726.03 C733.08 724.22 733.37 722.43 733.66 720.67 C733.95 718.91 734.23 717.17 734.52 715.47 C734.81 713.76 735.10 712.08 735.39 710.43 C735.68 708.77 735.97 707.15 736.26 705.55 C736.54 703.95 736.83 702.38 737.12 700.83 C737.41 699.28 737.70 697.76 737.99 696.27 C738.57 693.28 739.14 690.40 739.72 687.61 C740.30 684.83 740.88 682.15 741.45 679.58 C742.03 677.00 742.61 674.52 743.19 672.15 C743.76 669.77 744.34 667.49 744.92 665.31 C745.50 663.13 746.07 661.04 746.65 659.05 C747.52 656.07 748.38 653.30 749.25 650.74 C750.12 648.18 750.98 645.83 751.85 643.68 C753.00 640.81 754.16 638.30 755.31 636.14 C756.18 634.52 757.05 633.09 757.91 631.85 C758.49 631.03 759.07 630.29 759.65 629.62 C759.93 629.29 760.22 628.98 760.51 628.69 C760.80 628.40 761.09 628.13 761.38 627.88 C761.67 627.63 761.96 627.40 762.24 627.19 C762.53 626.98 762.82 626.79 763.11 626.62 C763.40 626.44 763.69 626.29 763.98 626.16 C764.27 626.02 764.55 625.91 764.84 625.81 C765.13 625.72 765.42 625.64 765.71 625.58 C766.00 625.53 766.29 625.49 766.58 625.46 C766.86 625.44 767.15 625.44 767.44 625.45 C767.73 625.47 768.02 625.50 768.31 625.55 C768.60 625.60 768.89 625.67 769.17 625.76 C769.46 625.85 769.75 625.95 770.04 626.07 C770.33 626.19 770.62 626.33 770.91 626.48 C771.20 626.64 771.48 626.81 771.77 627.00 C772.06 627.19 772.35 627.40 772.64 627.62 C772.93 627.84 773.22 628.08 773.51 628.34 C774.08 628.85 774.66 629.42 775.24 630.06 C775.82 630.70 776.39 631.40 776.97 632.17 C777.84 633.31 778.70 634.59 779.57 636.00 C780.72 637.89 781.88 640.00 783.03 642.33 C784.19 644.66 785.34 647.21 786.50 649.96 C787.37 652.02 788.23 654.19 789.10 656.46 C789.96 658.74 790.83 661.12 791.70 663.60 C792.56 666.09 793.43 668.66 794.30 671.34 C795.16 674.01 796.03 676.77 796.90 679.62 C797.47 681.51 798.05 683.45 798.63 685.42 C799.21 687.39 799.78 689.40 800.36 691.44 C800.94 693.48 801.52 695.55 802.09 697.66 C802.67 699.76 803.25 701.90 803.83 704.06 C804.40 706.23 804.98 708.42 805.56 710.64 C806.14 712.86 806.71 715.11 807.29 717.39 C807.87 719.66 808.45 721.96 809.02 724.28 C809.60 726.60 810.18 728.94 810.76 731.31 C811.33 733.67 811.91 736.06 812.49 738.46 C813.07 740.87 813.64 743.29 814.22 745.73 C814.80 748.17 815.38 750.63 815.95 753.10 C816.53 755.57 817.11 758.06 817.69 760.55 C818.26 763.05 818.84 765.56 819.42 768.08 C820.00 770.60 820.57 773.13 821.15 775.67 C821.73 778.21 822.31 780.76 822.88 783.31 C823.46 785.87 824.04 788.43 824.62 790.99 C825.19 793.56 825.77 796.12 826.35 798.69 C826.93 801.26 827.50 803.83 828.08 806.41 C828.66 808.98 829.24 811.55 829.81 814.12 C830.39 816.69 830.97 819.26 831.55 821.82 C832.12 824.39 832.70 826.95 833.28 829.50 C833.86 832.06 834.43 834.61 835.01 837.16 C835.59 839.71 836.17 842.25 836.74 844.78 C837.32 847.32 837.90 849.85 838.48 852.36 C839.05 854.88 839.63 857.39 840.21 859.89 C840.79 862.39 841.36 864.89 841.94 867.37 C842.52 869.85 843.10 872.32 843.67 874.77 C844.25 877.23 844.83 879.67 845.41 882.10 C845.98 884.53 846.56 886.95 847.14 889.35 C847.72 891.75 848.29 894.14 848.87 896.51 C849.45 898.88 850.03 901.24 850.60 903.57 C851.18 905.91 851.76 908.23 852.34 910.53 C852.91 912.83 853.49 915.11 854.07 917.37 C854.65 919.63 855.22 921.87 855.80 924.09 C856.38 926.31 856.96 928.51 857.53 930.68 C858.11 932.85 858.69 935.01 859.27 937.13 C859.84 939.26 860.42 941.36 861.00 943.44 C861.58 945.52 862.15 947.57 862.73 949.59 C863.31 951.62 863.89 953.61 864.46 955.58 C865.04 957.55 865.62 959.49 866.20 961.40 C867.06 964.27 867.93 967.07 868.80 969.80 C869.66 972.53 870.53 975.19 871.39 977.77 C872.26 980.36 873.13 982.86 873.99 985.29 C874.86 987.72 875.73 990.07 876.59 992.33 C877.46 994.59 878.33 996.77 879.19 998.86 C880.35 1001.65 881.50 1004.27 882.66 1006.73 C883.81 1009.19 884.97 1011.48 886.12 1013.59 C887.57 1016.23 889.01 1018.59 890.45 1020.65 C891.32 1021.88 892.19 1023.01 893.05 1024.02 C893.34 1024.36 893.63 1024.69 893.92 1025.00 M916.73 1025.00 C917.77 1023.94 918.80 1022.74 919.83 1021.41 C921.21 1019.64 922.59 1017.63 923.97 1015.40 C925.34 1013.16 926.72 1010.70 928.10 1008.01 C929.13 1006.00 930.17 1003.86 931.20 1001.60 C932.23 999.34 933.26 996.96 934.30 994.47 C935.33 991.97 936.36 989.35 937.40 986.63 C938.09 984.81 938.78 982.94 939.46 981.02 C940.15 979.10 940.84 977.13 941.53 975.11 C942.22 973.09 942.91 971.02 943.60 968.91 C944.29 966.80 944.97 964.64 945.66 962.44 C946.35 960.24 947.04 958.00 947.73 955.72 C948.42 953.43 949.11 951.11 949.80 948.74 C950.48 946.38 951.17 943.98 951.86 941.54 C952.55 939.11 953.24 936.63 953.93 934.13 C954.62 931.62 955.31 929.08 955.99 926.51 C956.68 923.94 957.37 921.34 958.06 918.71 C958.75 916.08 959.44 913.42 960.13 910.73 C960.82 908.05 961.50 905.34 962.19 902.60 C962.88 899.87 963.57 897.11 964.26 894.33 C964.95 891.55 965.64 888.75 966.33 885.93 C967.01 883.11 967.70 880.27 968.39 877.41 C969.08 874.56 969.77 871.69 970.46 868.80 C971.15 865.91 971.84 863.01 972.53 860.10 C972.87 858.65 973.21 857.19 973.56 855.73 C973.90 854.27 974.25 852.80 974.59 851.33 C974.94 849.87 975.28 848.40 975.62 846.93 C975.97 845.46 976.31 843.98 976.66 842.51 C977.00 841.03 977.35 839.56 977.69 838.08 C978.04 836.60 978.38 835.12 978.72 833.64 C979.07 832.16 979.41 830.68 979.76 829.19 C980.10 827.71 980.45 826.22 980.79 824.74 C981.13 823.25 981.48 821.77 981.82 820.28 C982.17 818.80 982.51 817.31 982.86 815.82 C983.20 814.34 983.55 812.85 983.89 811.36 C984.23 809.88 984.58 808.39 984.92 806.90 C985.27 805.42 985.61 803.93 985.96 802.45 C986.30 800.96 986.64 799.48 986.99 798.00 C987.33 796.51 987.68 795.03 988.02 793.55 C988.37 792.07 988.71 790.59 989.06 789.11 C989.40 787.63 989.74 786.16 990.09 784.68 C990.43 783.21 990.78 781.73 991.12 780.26 C991.47 778.79 991.81 777.32 992.16 775.86 C992.50 774.39 992.84 772.93 993.19 771.47 C993.88 768.55 994.57 765.64 995.25 762.74 C995.94 759.84 996.63 756.96 997.32 754.09 C998.01 751.22 998.70 748.36 999.39 745.53 C1000.08 742.69 1000.76 739.87 1001.45 737.07 C1002.14 734.27 1002.83 731.49 1003.52 728.72 C1004.21 725.96 1004.90 723.22 1005.59 720.49 C1006.28 717.77 1006.96 715.06 1007.65 712.38 C1008.34 709.69 1009.03 707.03 1009.72 704.39 C1010.41 701.75 1011.10 699.13 1011.79 696.53 C1012.47 693.93 1013.16 691.36 1013.85 688.81 C1014.54 686.26 1015.23 683.73 1015.92 681.23 C1016.61 678.72 1017.30 676.24 1017.98 673.79 C1018.67 671.34 1019.36 668.91 1020.05 666.50 C1020.74 664.10 1021.43 661.72 1022.12 659.37 C1022.81 657.02 1023.49 654.70 1024.18 652.41 C1024.87 650.11 1025.56 647.84 1026.25 645.60 C1026.94 643.36 1027.63 641.15 1028.32 638.97 C1029.00 636.79 1029.69 634.64 1030.38 632.52 C1031.07 630.39 1031.76 628.30 1032.45 626.24 C1033.14 624.18 1033.83 622.15 1034.51 620.16 C1035.20 618.16 1035.89 616.20 1036.58 614.26 C1037.27 612.33 1037.96 610.43 1038.65 608.57 C1039.68 605.77 1040.71 603.05 1041.75 600.40 C1042.78 597.76 1043.81 595.20 1044.85 592.71 C1045.88 590.23 1046.91 587.83 1047.95 585.51 C1048.98 583.20 1050.01 580.96 1051.05 578.82 C1052.08 576.68 1053.11 574.62 1054.14 572.65 C1055.52 570.03 1056.90 567.56 1058.28 565.25 C1059.66 562.93 1061.03 560.77 1062.41 558.75 C1064.13 556.23 1065.85 553.93 1067.58 551.86 C1069.30 549.78 1071.02 547.92 1072.74 546.27 C1074.12 544.95 1075.50 543.76 1076.87 542.70 C1077.91 541.90 1078.94 541.18 1079.97 540.52 C1081.01 539.87 1082.04 539.28 1083.07 538.76 C1084.11 538.24 1085.14 537.79 1086.17 537.40 C1087.21 537.02 1088.24 536.70 1089.27 536.44 C1090.31 536.18 1091.34 535.98 1092.37 535.84 C1093.40 535.71 1094.44 535.63 1095.47 535.61 C1096.50 535.60 1097.54 535.64 1098.57 535.73 C1099.60 535.83 1100.64 535.98 1101.67 536.19 C1102.70 536.39 1103.74 536.65 1104.77 536.96 C1106.15 537.37 1107.52 537.88 1108.90 538.47 C1110.62 539.21 1112.35 540.09 1114.07 541.08 C1116.48 542.47 1118.89 544.09 1121.30 545.89 C1123.37 547.43 1125.43 549.10 1127.50 550.87 C1129.57 552.64 1131.63 554.51 1133.70 556.44 C1135.76 558.37 1137.83 560.37 1139.90 562.39 C1141.96 564.42 1144.03 566.48 1146.10 568.54 C1148.16 570.59 1150.23 572.65 1152.30 574.67 C1154.36 576.69 1156.43 578.68 1158.49 580.59 C1160.56 582.51 1162.63 584.36 1164.69 586.11 C1166.76 587.86 1168.83 589.51 1170.89 591.02 C1172.96 592.54 1175.02 593.92 1177.09 595.13 C1178.81 596.15 1180.53 597.04 1182.26 597.80 C1183.63 598.41 1185.01 598.94 1186.39 599.38 C1187.77 599.82 1189.14 600.17 1190.52 600.45 C1191.90 600.72 1193.28 600.91 1194.65 601.01 C1195.69 601.09 1196.72 601.12 1197.75 601.10 C1198.79 601.09 1199.82 601.02 1200.85 600.91 C1202.23 600.76 1203.61 600.53 1204.99 600.22 C1206.36 599.90 1207.74 599.50 1209.12 599.02 C1210.50 598.54 1211.87 597.97 1213.25 597.32 C1214.97 596.51 1216.70 595.57 1218.42 594.49 C1220.14 593.42 1221.86 592.22 1223.58 590.89 C1225.65 589.29 1227.72 587.50 1229.78 585.53 C1231.85 583.56 1233.91 581.40 1235.98 579.05 C1237.70 577.10 1239.43 575.01 1241.15 572.80 C1242.87 570.59 1244.59 568.25 1246.31 565.78 C1247.69 563.80 1249.07 561.74 1250.45 559.60 C1251.82 557.47 1253.20 555.25 1254.58 552.97 C1255.96 550.68 1257.33 548.33 1258.71 545.91 C1260.09 543.49 1261.47 541.02 1262.84 538.48 C1264.22 535.95 1265.60 533.36 1266.98 530.73 C1268.01 528.76 1269.04 526.75 1270.08 524.73 C1271.11 522.71 1272.14 520.66 1273.17 518.59 C1274.21 516.53 1275.24 514.44 1276.27 512.34 C1277.31 510.24 1278.34 508.12 1279.37 505.99 C1280.41 503.86 1281.44 501.71 1282.47 499.56 C1283.51 497.41 1284.54 495.24 1285.57 493.07 C1286.61 490.90 1287.64 488.72 1288.67 486.54 C1289.71 484.36 1290.74 482.18 1291.77 480.00 C1292.81 477.81 1293.84 475.63 1294.87 473.45 C1295.90 471.27 1296.94 469.10 1297.97 466.93 C1299.00 464.76 1300.04 462.59 1301.07 460.44 C1302.10 458.29 1303.14 456.14 1304.17 454.01 C1305.20 451.88 1306.24 449.76 1307.27 447.66 C1308.30 445.56 1309.34 443.48 1310.37 441.41 C1311.40 439.35 1312.44 437.30 1313.47 435.28 C1314.85 432.59 1316.22 429.93 1317.60 427.32 C1318.98 424.72 1320.36 422.16 1321.73 419.65 C1323.11 417.15 1324.49 414.69 1325.87 412.29 C1327.24 409.89 1328.62 407.54 1330.00 405.24 C1331.38 402.94 1332.75 400.69 1334.13 398.49 C1335.51 396.30 1336.89 394.15 1338.26 392.06 C1339.64 389.97 1341.02 387.93 1342.40 385.94 C1344.12 383.46 1345.84 381.05 1347.56 378.73 C1349.28 376.41 1351.01 374.17 1352.73 372.01 C1354.45 369.85 1356.17 367.78 1357.89 365.79 C1359.62 363.79 1361.34 361.88 1363.06 360.06 C1365.13 357.86 1367.19 355.79 1369.26 353.84 C1371.33 351.88 1373.39 350.05 1375.46 348.34 C1377.52 346.62 1379.59 345.03 1381.66 343.56 C1384.07 341.84 1386.48 340.29 1388.89 338.91 C1391.30 337.52 1393.71 336.31 1396.12 335.24 C1398.88 334.02 1401.63 332.99 1404.39 332.13 C1407.14 331.27 1409.90 330.57 1412.65 330.00 C1415.41 329.43 1418.16 329.00 1420.92 328.66 C1423.67 328.32 1426.43 328.09 1429.18 327.92 C1431.94 327.75 1434.69 327.66 1437.45 327.59 C1440.20 327.53 1442.96 327.51 1445.71 327.49 C1448.47 327.47 1451.22 327.47 1453.98 327.45 C1456.73 327.44 1459.49 327.41 1462.24 327.36 C1465.00 327.31 1467.75 327.24 1470.51 327.12 C1473.26 327.00 1476.02 326.84 1478.77 326.62 C1481.53 326.40 1484.28 326.12 1487.04 325.76 C1489.79 325.41 1492.55 324.97 1495.30 324.44 C1498.06 323.91 1500.81 323.28 1503.57 322.54 C1506.33 321.80 1509.08 320.95 1511.84 319.97 C1514.59 318.99 1517.35 317.87 1520.10 316.63 C1521.13 316.16 1522.17 315.68 1523.20 315.18"/>
<path stroke="#0072BD" stroke-dasharray="28 5.8 14 5.3" d="M712.00 907.40 C712.35 905.80 712.70 904.21 713.05 902.64 C713.40 901.07 713.75 899.52 714.10 897.98 C714.45 896.44 714.80 894.92 715.16 893.41 C715.51 891.90 715.86 890.41 716.21 888.94 C716.91 885.98 717.61 883.09 718.31 880.26 C719.01 877.43 719.71 874.66 720.41 871.95 C721.12 869.24 721.82 866.58 722.52 863.99 C723.22 861.40 723.92 858.86 724.62 856.39 C725.32 853.91 726.02 851.49 726.73 849.13 C727.43 846.77 728.13 844.46 728.83 842.21 C729.53 839.96 730.23 837.77 730.93 835.63 C731.63 833.49 732.33 831.40 733.04 829.37 C733.74 827.34 734.44 825.36 735.14 823.44 C736.19 820.55 737.24 817.78 738.30 815.13 C739.35 812.47 740.40 809.93 741.45 807.51 C742.50 805.08 743.55 802.77 744.61 800.56 C745.66 798.36 746.71 796.26 747.76 794.27 C749.16 791.62 750.57 789.15 751.97 786.86 C753.37 784.57 754.77 782.46 756.18 780.53 C757.93 778.11 759.68 775.96 761.43 774.06 C762.84 772.54 764.24 771.19 765.64 769.98 C766.69 769.08 767.75 768.27 768.80 767.54 C769.85 766.81 770.90 766.16 771.95 765.60 C772.65 765.22 773.36 764.88 774.06 764.57 C774.76 764.26 775.46 763.99 776.16 763.75 C776.86 763.51 777.56 763.31 778.26 763.13 C778.96 762.96 779.67 762.82 780.37 762.71 C781.07 762.61 781.77 762.53 782.47 762.49 C783.17 762.44 783.87 762.43 784.57 762.44 C785.28 762.46 785.98 762.51 786.68 762.58 C787.73 762.69 788.78 762.87 789.83 763.11 C790.89 763.35 791.94 763.65 792.99 764.01 C794.04 764.37 795.09 764.78 796.14 765.26 C797.55 765.89 798.95 766.61 800.35 767.43 C802.10 768.46 803.86 769.62 805.61 770.91 C807.71 772.46 809.82 774.19 811.92 776.08 C814.02 777.97 816.13 780.01 818.23 782.19 C819.99 784.01 821.74 785.92 823.49 787.92 C825.24 789.91 827.00 791.99 828.75 794.14 C830.50 796.29 832.26 798.52 834.01 800.80 C835.76 803.09 837.52 805.43 839.27 807.82 C840.67 809.74 842.07 811.68 843.48 813.65 C844.88 815.62 846.28 817.62 847.68 819.63 C849.08 821.65 850.49 823.68 851.89 825.73 C853.29 827.78 854.69 829.84 856.10 831.91 C857.50 833.98 858.90 836.06 860.30 838.14 C861.71 840.22 863.11 842.30 864.51 844.37 C865.91 846.45 867.32 848.52 868.72 850.58 C870.12 852.64 871.52 854.69 872.93 856.73 C874.33 858.76 875.73 860.78 877.13 862.78 C878.54 864.78 879.94 866.76 881.34 868.72 C883.09 871.17 884.85 873.58 886.60 875.96 C888.35 878.34 890.11 880.68 891.86 882.98 C893.61 885.29 895.36 887.55 897.12 889.77 C898.87 892.00 900.62 894.18 902.38 896.31 C904.13 898.44 905.88 900.53 907.64 902.57 C909.39 904.61 911.14 906.60 912.89 908.54 C914.65 910.47 916.40 912.36 918.15 914.19 C920.26 916.39 922.36 918.50 924.46 920.54 C926.57 922.57 928.67 924.51 930.77 926.37 C932.88 928.22 934.98 929.99 937.09 931.67 C939.19 933.34 941.29 934.94 943.40 936.44 C945.85 938.19 948.30 939.83 950.76 941.36 C953.21 942.88 955.67 944.29 958.12 945.59 C960.58 946.89 963.03 948.08 965.48 949.16 C967.94 950.24 970.39 951.21 972.85 952.07 C975.65 953.06 978.46 953.92 981.26 954.64 C984.07 955.36 986.87 955.94 989.68 956.40 C992.48 956.86 995.29 957.19 998.09 957.39 C1000.89 957.60 1003.70 957.68 1006.50 957.64 C1009.31 957.60 1012.11 957.44 1014.92 957.17 C1017.72 956.89 1020.53 956.50 1023.33 956.00 C1026.14 955.50 1028.94 954.89 1031.75 954.17 C1034.55 953.45 1037.36 952.63 1040.16 951.70 C1042.97 950.77 1045.77 949.74 1048.58 948.61 C1051.03 947.62 1053.49 946.56 1055.94 945.43 C1058.39 944.29 1060.85 943.08 1063.30 941.81 C1065.76 940.53 1068.21 939.19 1070.66 937.78 C1073.12 936.37 1075.57 934.89 1078.03 933.35 C1080.48 931.81 1082.94 930.20 1085.39 928.54 C1087.84 926.87 1090.30 925.15 1092.75 923.37 C1094.86 921.84 1096.96 920.27 1099.06 918.66 C1101.17 917.04 1103.27 915.39 1105.37 913.70 C1107.48 912.00 1109.58 910.27 1111.68 908.50 C1113.79 906.72 1115.89 904.91 1118.00 903.06 C1120.10 901.20 1122.20 899.31 1124.31 897.38 C1126.41 895.45 1128.51 893.48 1130.62 891.48 C1132.72 889.47 1134.82 887.43 1136.93 885.35 C1139.03 883.27 1141.14 881.15 1143.24 879.00 C1144.99 877.21 1146.74 875.39 1148.50 873.55 C1150.25 871.71 1152.00 869.84 1153.76 867.95 C1155.51 866.06 1157.26 864.14 1159.02 862.21 C1160.77 860.27 1162.52 858.31 1164.27 856.32 C1166.03 854.34 1167.78 852.33 1169.53 850.30 C1171.29 848.27 1173.04 846.22 1174.79 844.15 C1176.55 842.07 1178.30 839.98 1180.05 837.86 C1181.80 835.74 1183.56 833.60 1185.31 831.44 C1187.06 829.28 1188.82 827.10 1190.57 824.90 C1192.32 822.70 1194.08 820.47 1195.83 818.23 C1197.58 815.99 1199.33 813.73 1201.09 811.44 C1202.84 809.16 1204.59 806.86 1206.35 804.54 C1208.10 802.22 1209.85 799.88 1211.61 797.52 C1213.36 795.16 1215.11 792.78 1216.86 790.39 C1218.62 787.99 1220.37 785.58 1222.12 783.15 C1223.53 781.20 1224.93 779.24 1226.33 777.28 C1227.73 775.31 1229.14 773.33 1230.54 771.34 C1231.94 769.35 1233.34 767.35 1234.75 765.34 C1236.15 763.32 1237.55 761.30 1238.95 759.27 C1240.36 757.24 1241.76 755.19 1243.16 753.14 C1244.56 751.09 1245.96 749.03 1247.37 746.95 C1248.77 744.88 1250.17 742.80 1251.57 740.70 C1252.98 738.61 1254.38 736.51 1255.78 734.40 C1257.18 732.28 1258.59 730.16 1259.99 728.03 C1261.39 725.90 1262.79 723.76 1264.20 721.61 C1265.60 719.46 1267.00 717.30 1268.40 715.13 C1269.81 712.97 1271.21 710.79 1272.61 708.60 C1274.01 706.42 1275.42 704.22 1276.82 702.02 C1278.22 699.81 1279.62 697.60 1281.02 695.38 C1282.43 693.16 1283.83 690.93 1285.23 688.69 C1286.63 686.45 1288.04 684.21 1289.44 681.95 C1290.84 679.69 1292.24 677.43 1293.65 675.16 C1295.05 672.89 1296.45 670.61 1297.85 668.32 C1299.26 666.03 1300.66 663.73 1302.06 661.43 C1303.46 659.13 1304.87 656.81 1306.27 654.49 C1307.67 652.17 1309.07 649.85 1310.48 647.51 C1311.88 645.17 1313.28 642.83 1314.68 640.48 C1316.08 638.13 1317.49 635.77 1318.89 633.41 C1320.29 631.04 1321.69 628.67 1323.10 626.29 C1324.50 623.91 1325.90 621.52 1327.30 619.13 C1328.71 616.73 1330.11 614.33 1331.51 611.93 C1332.91 609.52 1334.32 607.10 1335.72 604.68 C1337.12 602.26 1338.52 599.83 1339.93 597.40 C1341.33 594.96 1342.73 592.52 1344.13 590.07 C1345.54 587.63 1346.94 585.17 1348.34 582.71 C1349.74 580.25 1351.15 577.78 1352.55 575.31 C1353.95 572.84 1355.35 570.36 1356.75 567.87 C1358.16 565.39 1359.56 562.90 1360.96 560.40 C1362.36 557.90 1363.77 555.40 1365.17 552.89 C1366.57 550.38 1367.97 547.87 1369.38 545.35 C1370.78 542.83 1372.18 540.30 1373.58 537.77 C1374.99 535.24 1376.39 532.71 1377.79 530.16 C1379.19 527.62 1380.60 525.08 1382.00 522.53 C1383.40 519.97 1384.80 517.42 1386.21 514.86 C1387.61 512.29 1389.01 509.73 1390.41 507.16 C1391.81 504.58 1393.22 502.01 1394.62 499.43 C1396.02 496.85 1397.42 494.26 1398.83 491.67 C1400.23 489.08 1401.63 486.49 1403.03 483.89 C1404.44 481.29 1405.84 478.68 1407.24 476.08 C1408.64 473.47 1410.05 470.86 1411.45 468.24 C1412.85 465.63 1414.25 463.01 1415.66 460.38 C1417.06 457.76 1418.46 455.13 1419.86 452.50 C1421.27 449.87 1422.67 447.23 1424.07 444.60 C1425.47 441.96 1426.87 439.31 1428.28 436.67 C1429.68 434.02 1431.08 431.37 1432.48 428.72 C1433.54 426.73 1434.59 424.74 1435.64 422.75 C1436.69 420.76 1437.74 418.76 1438.80 416.76 C1439.85 414.77 1440.90 412.77 1441.95 410.77 C1443.00 408.77 1444.05 406.77 1445.11 404.77 C1446.16 402.77 1447.21 400.77 1448.26 398.76 C1449.31 396.76 1450.37 394.76 1451.42 392.75 C1452.47 390.75 1453.52 388.74 1454.57 386.73 C1455.62 384.73 1456.68 382.72 1457.73 380.71 C1458.78 378.70 1459.83 376.69 1460.88 374.69 C1461.93 372.68 1462.99 370.67 1464.04 368.66 C1465.09 366.65 1466.14 364.64 1467.19 362.63 C1468.25 360.62 1469.30 358.61 1470.35 356.60 C1471.40 354.59 1472.45 352.58 1473.50 350.58 C1474.56 348.57 1475.61 346.56 1476.66 344.55 C1477.71 342.54 1478.76 340.53 1479.82 338.53 C1480.87 336.52 1481.92 334.51 1482.97 332.51 C1484.02 330.50 1485.07 328.50 1486.13 326.50 C1487.18 324.49 1488.23 322.49 1489.28 320.49 C1490.33 318.49 1491.39 316.49 1492.44 314.49 C1493.49 312.49 1494.54 310.49 1495.59 308.50 C1495.94 307.83 1496.29 307.17 1496.64 306.50"/>
</g>
</svg></body></html>
